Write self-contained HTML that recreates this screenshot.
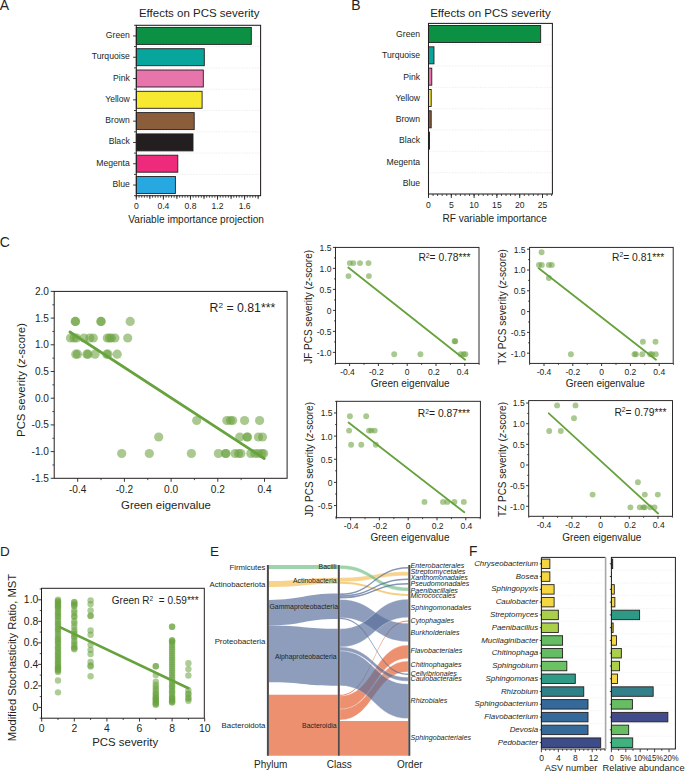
<!DOCTYPE html>
<html><head><meta charset="utf-8"><style>
html,body{margin:0;padding:0;background:#fff;}
svg{display:block;font-family:"Liberation Sans", sans-serif;}
</style></head><body>
<svg width="685" height="773" viewBox="0 0 685 773">
<rect width="685" height="773" fill="#fff"/>
<text x="-0.3" y="9.9" font-size="14" fill="#231f20">A</text>
<text x="351.3" y="9.9" font-size="14" fill="#231f20">B</text>
<text x="-0.3" y="246.6" font-size="14" fill="#231f20">C</text>
<text x="0.1" y="555.5" font-size="13.5" fill="#231f20">D</text>
<text x="210.1" y="555.7" font-size="13.5" fill="#231f20">E</text>
<text x="468.9" y="556.3" font-size="13.8" fill="#231f20">F</text>
<line x1="137.3" y1="46.6" x2="259.6" y2="46.6" stroke="#dedede" stroke-width="0.5" stroke-dasharray="1.6,1.2"/>
<line x1="137.3" y1="67.9" x2="259.6" y2="67.9" stroke="#dedede" stroke-width="0.5" stroke-dasharray="1.6,1.2"/>
<line x1="137.3" y1="89.2" x2="259.6" y2="89.2" stroke="#dedede" stroke-width="0.5" stroke-dasharray="1.6,1.2"/>
<line x1="137.3" y1="110.5" x2="259.6" y2="110.5" stroke="#dedede" stroke-width="0.5" stroke-dasharray="1.6,1.2"/>
<line x1="137.3" y1="131.8" x2="259.6" y2="131.8" stroke="#dedede" stroke-width="0.5" stroke-dasharray="1.6,1.2"/>
<line x1="137.3" y1="153.1" x2="259.6" y2="153.1" stroke="#dedede" stroke-width="0.5" stroke-dasharray="1.6,1.2"/>
<line x1="137.3" y1="174.4" x2="259.6" y2="174.4" stroke="#dedede" stroke-width="0.5" stroke-dasharray="1.6,1.2"/>
<rect x="136.3" y="27.4" width="115" height="17" fill="#0c9144" stroke="#231f20" stroke-width="0.9" />
<rect x="136.3" y="48.7" width="68" height="17" fill="#07a59b" stroke="#231f20" stroke-width="0.9" />
<rect x="136.3" y="70" width="67" height="17" fill="#e774ab" stroke="#231f20" stroke-width="0.9" />
<rect x="136.3" y="91.3" width="65.8" height="17" fill="#f7e92f" stroke="#231f20" stroke-width="0.9" />
<rect x="136.3" y="112.6" width="57.9" height="17" fill="#8b5d3b" stroke="#231f20" stroke-width="0.9" />
<rect x="136.3" y="133.9" width="56.7" height="17" fill="#231f20" stroke="#231f20" stroke-width="0.9" />
<rect x="136.3" y="155.2" width="41.5" height="17" fill="#ed2a7b" stroke="#231f20" stroke-width="0.9" />
<rect x="136.3" y="176.5" width="39.1" height="17" fill="#27a8e0" stroke="#231f20" stroke-width="0.9" />
<rect x="136.3" y="25.3" width="124.3" height="170.4" fill="none" stroke="#231f20" stroke-width="1.05" />
<line x1="133.1" y1="35.95" x2="136.3" y2="35.95" stroke="#231f20" stroke-width="0.9" />
<line x1="134.1" y1="25.3" x2="136.3" y2="25.3" stroke="#231f20" stroke-width="0.9" />
<text x="129.8" y="37.95" font-size="8.65" text-anchor="end" fill="#231f20" >Green</text>
<line x1="133.1" y1="57.25" x2="136.3" y2="57.25" stroke="#231f20" stroke-width="0.9" />
<line x1="134.1" y1="46.6" x2="136.3" y2="46.6" stroke="#231f20" stroke-width="0.9" />
<text x="129.8" y="59.25" font-size="8.65" text-anchor="end" fill="#231f20" >Turquoise</text>
<line x1="133.1" y1="78.55" x2="136.3" y2="78.55" stroke="#231f20" stroke-width="0.9" />
<line x1="134.1" y1="67.9" x2="136.3" y2="67.9" stroke="#231f20" stroke-width="0.9" />
<text x="129.8" y="80.55" font-size="8.65" text-anchor="end" fill="#231f20" >Pink</text>
<line x1="133.1" y1="99.85" x2="136.3" y2="99.85" stroke="#231f20" stroke-width="0.9" />
<line x1="134.1" y1="89.2" x2="136.3" y2="89.2" stroke="#231f20" stroke-width="0.9" />
<text x="129.8" y="101.85" font-size="8.65" text-anchor="end" fill="#231f20" >Yellow</text>
<line x1="133.1" y1="121.15" x2="136.3" y2="121.15" stroke="#231f20" stroke-width="0.9" />
<line x1="134.1" y1="110.5" x2="136.3" y2="110.5" stroke="#231f20" stroke-width="0.9" />
<text x="129.8" y="123.15" font-size="8.65" text-anchor="end" fill="#231f20" >Brown</text>
<line x1="133.1" y1="142.45" x2="136.3" y2="142.45" stroke="#231f20" stroke-width="0.9" />
<line x1="134.1" y1="131.8" x2="136.3" y2="131.8" stroke="#231f20" stroke-width="0.9" />
<text x="129.8" y="144.45" font-size="8.65" text-anchor="end" fill="#231f20" >Black</text>
<line x1="133.1" y1="163.75" x2="136.3" y2="163.75" stroke="#231f20" stroke-width="0.9" />
<line x1="134.1" y1="153.1" x2="136.3" y2="153.1" stroke="#231f20" stroke-width="0.9" />
<text x="129.8" y="165.75" font-size="8.65" text-anchor="end" fill="#231f20" >Megenta</text>
<line x1="133.1" y1="185.05" x2="136.3" y2="185.05" stroke="#231f20" stroke-width="0.9" />
<line x1="134.1" y1="174.4" x2="136.3" y2="174.4" stroke="#231f20" stroke-width="0.9" />
<text x="129.8" y="187.05" font-size="8.65" text-anchor="end" fill="#231f20" >Blue</text>
<line x1="134.1" y1="195.7" x2="136.3" y2="195.7" stroke="#231f20" stroke-width="0.9" />
<line x1="136.3" y1="195.7" x2="136.3" y2="197.7" stroke="#231f20" stroke-width="0.8" />
<line x1="139.01" y1="195.7" x2="139.01" y2="197.7" stroke="#231f20" stroke-width="0.8" />
<line x1="141.72" y1="195.7" x2="141.72" y2="197.7" stroke="#231f20" stroke-width="0.8" />
<line x1="144.42" y1="195.7" x2="144.42" y2="197.7" stroke="#231f20" stroke-width="0.8" />
<line x1="147.13" y1="195.7" x2="147.13" y2="197.7" stroke="#231f20" stroke-width="0.8" />
<line x1="149.84" y1="195.7" x2="149.84" y2="197.7" stroke="#231f20" stroke-width="0.8" />
<line x1="152.55" y1="195.7" x2="152.55" y2="197.7" stroke="#231f20" stroke-width="0.8" />
<line x1="155.26" y1="195.7" x2="155.26" y2="197.7" stroke="#231f20" stroke-width="0.8" />
<line x1="157.96" y1="195.7" x2="157.96" y2="197.7" stroke="#231f20" stroke-width="0.8" />
<line x1="160.67" y1="195.7" x2="160.67" y2="197.7" stroke="#231f20" stroke-width="0.8" />
<line x1="163.38" y1="195.7" x2="163.38" y2="197.7" stroke="#231f20" stroke-width="0.8" />
<line x1="166.09" y1="195.7" x2="166.09" y2="197.7" stroke="#231f20" stroke-width="0.8" />
<line x1="168.8" y1="195.7" x2="168.8" y2="197.7" stroke="#231f20" stroke-width="0.8" />
<line x1="171.5" y1="195.7" x2="171.5" y2="197.7" stroke="#231f20" stroke-width="0.8" />
<line x1="174.21" y1="195.7" x2="174.21" y2="197.7" stroke="#231f20" stroke-width="0.8" />
<line x1="176.92" y1="195.7" x2="176.92" y2="197.7" stroke="#231f20" stroke-width="0.8" />
<line x1="179.63" y1="195.7" x2="179.63" y2="197.7" stroke="#231f20" stroke-width="0.8" />
<line x1="182.34" y1="195.7" x2="182.34" y2="197.7" stroke="#231f20" stroke-width="0.8" />
<line x1="185.04" y1="195.7" x2="185.04" y2="197.7" stroke="#231f20" stroke-width="0.8" />
<line x1="187.75" y1="195.7" x2="187.75" y2="197.7" stroke="#231f20" stroke-width="0.8" />
<line x1="190.46" y1="195.7" x2="190.46" y2="197.7" stroke="#231f20" stroke-width="0.8" />
<line x1="193.17" y1="195.7" x2="193.17" y2="197.7" stroke="#231f20" stroke-width="0.8" />
<line x1="195.88" y1="195.7" x2="195.88" y2="197.7" stroke="#231f20" stroke-width="0.8" />
<line x1="198.58" y1="195.7" x2="198.58" y2="197.7" stroke="#231f20" stroke-width="0.8" />
<line x1="201.29" y1="195.7" x2="201.29" y2="197.7" stroke="#231f20" stroke-width="0.8" />
<line x1="204" y1="195.7" x2="204" y2="197.7" stroke="#231f20" stroke-width="0.8" />
<line x1="206.71" y1="195.7" x2="206.71" y2="197.7" stroke="#231f20" stroke-width="0.8" />
<line x1="209.42" y1="195.7" x2="209.42" y2="197.7" stroke="#231f20" stroke-width="0.8" />
<line x1="212.12" y1="195.7" x2="212.12" y2="197.7" stroke="#231f20" stroke-width="0.8" />
<line x1="214.83" y1="195.7" x2="214.83" y2="197.7" stroke="#231f20" stroke-width="0.8" />
<line x1="217.54" y1="195.7" x2="217.54" y2="197.7" stroke="#231f20" stroke-width="0.8" />
<line x1="220.25" y1="195.7" x2="220.25" y2="197.7" stroke="#231f20" stroke-width="0.8" />
<line x1="222.96" y1="195.7" x2="222.96" y2="197.7" stroke="#231f20" stroke-width="0.8" />
<line x1="225.66" y1="195.7" x2="225.66" y2="197.7" stroke="#231f20" stroke-width="0.8" />
<line x1="228.37" y1="195.7" x2="228.37" y2="197.7" stroke="#231f20" stroke-width="0.8" />
<line x1="231.08" y1="195.7" x2="231.08" y2="197.7" stroke="#231f20" stroke-width="0.8" />
<line x1="233.79" y1="195.7" x2="233.79" y2="197.7" stroke="#231f20" stroke-width="0.8" />
<line x1="236.5" y1="195.7" x2="236.5" y2="197.7" stroke="#231f20" stroke-width="0.8" />
<line x1="239.2" y1="195.7" x2="239.2" y2="197.7" stroke="#231f20" stroke-width="0.8" />
<line x1="241.91" y1="195.7" x2="241.91" y2="197.7" stroke="#231f20" stroke-width="0.8" />
<line x1="244.62" y1="195.7" x2="244.62" y2="197.7" stroke="#231f20" stroke-width="0.8" />
<line x1="247.33" y1="195.7" x2="247.33" y2="197.7" stroke="#231f20" stroke-width="0.8" />
<line x1="250.04" y1="195.7" x2="250.04" y2="197.7" stroke="#231f20" stroke-width="0.8" />
<line x1="252.74" y1="195.7" x2="252.74" y2="197.7" stroke="#231f20" stroke-width="0.8" />
<line x1="255.45" y1="195.7" x2="255.45" y2="197.7" stroke="#231f20" stroke-width="0.8" />
<line x1="258.16" y1="195.7" x2="258.16" y2="197.7" stroke="#231f20" stroke-width="0.8" />
<line x1="149.84" y1="195.7" x2="149.84" y2="199.1" stroke="#231f20" stroke-width="0.8" />
<line x1="176.92" y1="195.7" x2="176.92" y2="199.1" stroke="#231f20" stroke-width="0.8" />
<line x1="204" y1="195.7" x2="204" y2="199.1" stroke="#231f20" stroke-width="0.8" />
<line x1="231.08" y1="195.7" x2="231.08" y2="199.1" stroke="#231f20" stroke-width="0.8" />
<line x1="258.16" y1="195.7" x2="258.16" y2="199.1" stroke="#231f20" stroke-width="0.8" />
<line x1="136.3" y1="195.7" x2="136.3" y2="199.7" stroke="#231f20" stroke-width="0.9" />
<text x="136.3" y="209.3" font-size="8.6" text-anchor="middle" fill="#231f20" >0</text>
<line x1="163.38" y1="195.7" x2="163.38" y2="199.7" stroke="#231f20" stroke-width="0.9" />
<text x="163.38" y="209.3" font-size="8.6" text-anchor="middle" fill="#231f20" >0.4</text>
<line x1="190.46" y1="195.7" x2="190.46" y2="199.7" stroke="#231f20" stroke-width="0.9" />
<text x="190.46" y="209.3" font-size="8.6" text-anchor="middle" fill="#231f20" >0.8</text>
<line x1="217.54" y1="195.7" x2="217.54" y2="199.7" stroke="#231f20" stroke-width="0.9" />
<text x="217.54" y="209.3" font-size="8.6" text-anchor="middle" fill="#231f20" >1.2</text>
<line x1="244.62" y1="195.7" x2="244.62" y2="199.7" stroke="#231f20" stroke-width="0.9" />
<text x="244.62" y="209.3" font-size="8.6" text-anchor="middle" fill="#231f20" >1.6</text>
<text x="199.2" y="16.8" font-size="11.5" text-anchor="middle" fill="#231f20" >Effects on PCS severity</text>
<text x="196.1" y="222.7" font-size="10.1" text-anchor="middle" fill="#231f20" >Variable importance projection</text>
<line x1="429.5" y1="44.72" x2="551.4" y2="44.72" stroke="#dedede" stroke-width="0.5" stroke-dasharray="1.6,1.2"/>
<line x1="429.5" y1="66.05" x2="551.4" y2="66.05" stroke="#dedede" stroke-width="0.5" stroke-dasharray="1.6,1.2"/>
<line x1="429.5" y1="87.38" x2="551.4" y2="87.38" stroke="#dedede" stroke-width="0.5" stroke-dasharray="1.6,1.2"/>
<line x1="429.5" y1="108.7" x2="551.4" y2="108.7" stroke="#dedede" stroke-width="0.5" stroke-dasharray="1.6,1.2"/>
<line x1="429.5" y1="130.03" x2="551.4" y2="130.03" stroke="#dedede" stroke-width="0.5" stroke-dasharray="1.6,1.2"/>
<line x1="429.5" y1="151.35" x2="551.4" y2="151.35" stroke="#dedede" stroke-width="0.5" stroke-dasharray="1.6,1.2"/>
<line x1="429.5" y1="172.68" x2="551.4" y2="172.68" stroke="#dedede" stroke-width="0.5" stroke-dasharray="1.6,1.2"/>
<rect x="428.5" y="25.5" width="112.18" height="17.02" fill="#0c9144" stroke="#231f20" stroke-width="0.9" />
<rect x="428.5" y="46.82" width="5.47" height="17.02" fill="#07a59b" stroke="#231f20" stroke-width="0.9" />
<rect x="428.5" y="68.15" width="3.28" height="17.02" fill="#e774ab" stroke="#231f20" stroke-width="0.9" />
<rect x="428.5" y="89.47" width="2.69" height="17.02" fill="#f7e92f" stroke="#231f20" stroke-width="0.9" />
<rect x="428.5" y="110.8" width="2.69" height="17.02" fill="#8b5d3b" stroke="#231f20" stroke-width="0.9" />
<rect x="428.5" y="132.12" width="1" height="17.02" fill="#231f20" stroke="#231f20" stroke-width="0.9" />
<rect x="428.5" y="153.45" width="0.14" height="17.02" fill="#ed2a7b" stroke="#231f20" stroke-width="0.5" />
<rect x="428.5" y="23.4" width="123.9" height="170.6" fill="none" stroke="#231f20" stroke-width="1.05" />
<text x="420.1" y="36.86" font-size="8.65" text-anchor="end" fill="#231f20" >Green</text>
<text x="420.1" y="58.19" font-size="8.65" text-anchor="end" fill="#231f20" >Turquoise</text>
<text x="420.1" y="79.51" font-size="8.65" text-anchor="end" fill="#231f20" >Pink</text>
<text x="420.1" y="100.84" font-size="8.65" text-anchor="end" fill="#231f20" >Yellow</text>
<text x="420.1" y="122.16" font-size="8.65" text-anchor="end" fill="#231f20" >Brown</text>
<text x="420.1" y="143.49" font-size="8.65" text-anchor="end" fill="#231f20" >Black</text>
<text x="420.1" y="164.81" font-size="8.65" text-anchor="end" fill="#231f20" >Megenta</text>
<text x="420.1" y="186.14" font-size="8.65" text-anchor="end" fill="#231f20" >Blue</text>
<line x1="428.5" y1="194" x2="428.5" y2="196" stroke="#231f20" stroke-width="0.8" />
<line x1="433.06" y1="194" x2="433.06" y2="196" stroke="#231f20" stroke-width="0.8" />
<line x1="437.62" y1="194" x2="437.62" y2="196" stroke="#231f20" stroke-width="0.8" />
<line x1="442.18" y1="194" x2="442.18" y2="196" stroke="#231f20" stroke-width="0.8" />
<line x1="446.74" y1="194" x2="446.74" y2="196" stroke="#231f20" stroke-width="0.8" />
<line x1="451.3" y1="194" x2="451.3" y2="196" stroke="#231f20" stroke-width="0.8" />
<line x1="455.86" y1="194" x2="455.86" y2="196" stroke="#231f20" stroke-width="0.8" />
<line x1="460.42" y1="194" x2="460.42" y2="196" stroke="#231f20" stroke-width="0.8" />
<line x1="464.98" y1="194" x2="464.98" y2="196" stroke="#231f20" stroke-width="0.8" />
<line x1="469.54" y1="194" x2="469.54" y2="196" stroke="#231f20" stroke-width="0.8" />
<line x1="474.1" y1="194" x2="474.1" y2="196" stroke="#231f20" stroke-width="0.8" />
<line x1="478.66" y1="194" x2="478.66" y2="196" stroke="#231f20" stroke-width="0.8" />
<line x1="483.22" y1="194" x2="483.22" y2="196" stroke="#231f20" stroke-width="0.8" />
<line x1="487.78" y1="194" x2="487.78" y2="196" stroke="#231f20" stroke-width="0.8" />
<line x1="492.34" y1="194" x2="492.34" y2="196" stroke="#231f20" stroke-width="0.8" />
<line x1="496.9" y1="194" x2="496.9" y2="196" stroke="#231f20" stroke-width="0.8" />
<line x1="501.46" y1="194" x2="501.46" y2="196" stroke="#231f20" stroke-width="0.8" />
<line x1="506.02" y1="194" x2="506.02" y2="196" stroke="#231f20" stroke-width="0.8" />
<line x1="510.58" y1="194" x2="510.58" y2="196" stroke="#231f20" stroke-width="0.8" />
<line x1="515.14" y1="194" x2="515.14" y2="196" stroke="#231f20" stroke-width="0.8" />
<line x1="519.7" y1="194" x2="519.7" y2="196" stroke="#231f20" stroke-width="0.8" />
<line x1="524.26" y1="194" x2="524.26" y2="196" stroke="#231f20" stroke-width="0.8" />
<line x1="528.82" y1="194" x2="528.82" y2="196" stroke="#231f20" stroke-width="0.8" />
<line x1="533.38" y1="194" x2="533.38" y2="196" stroke="#231f20" stroke-width="0.8" />
<line x1="537.94" y1="194" x2="537.94" y2="196" stroke="#231f20" stroke-width="0.8" />
<line x1="542.5" y1="194" x2="542.5" y2="196" stroke="#231f20" stroke-width="0.8" />
<line x1="547.06" y1="194" x2="547.06" y2="196" stroke="#231f20" stroke-width="0.8" />
<line x1="551.62" y1="194" x2="551.62" y2="196" stroke="#231f20" stroke-width="0.8" />
<line x1="428.5" y1="194" x2="428.5" y2="198" stroke="#231f20" stroke-width="0.9" />
<text x="428.5" y="207.6" font-size="8.6" text-anchor="middle" fill="#231f20" >0</text>
<line x1="451.3" y1="194" x2="451.3" y2="198" stroke="#231f20" stroke-width="0.9" />
<text x="451.3" y="207.6" font-size="8.6" text-anchor="middle" fill="#231f20" >5</text>
<line x1="474.1" y1="194" x2="474.1" y2="198" stroke="#231f20" stroke-width="0.9" />
<text x="474.1" y="207.6" font-size="8.6" text-anchor="middle" fill="#231f20" >10</text>
<line x1="496.9" y1="194" x2="496.9" y2="198" stroke="#231f20" stroke-width="0.9" />
<text x="496.9" y="207.6" font-size="8.6" text-anchor="middle" fill="#231f20" >15</text>
<line x1="519.7" y1="194" x2="519.7" y2="198" stroke="#231f20" stroke-width="0.9" />
<text x="519.7" y="207.6" font-size="8.6" text-anchor="middle" fill="#231f20" >20</text>
<line x1="542.5" y1="194" x2="542.5" y2="198" stroke="#231f20" stroke-width="0.9" />
<text x="542.5" y="207.6" font-size="8.6" text-anchor="middle" fill="#231f20" >25</text>
<text x="490.5" y="16.6" font-size="11.5" text-anchor="middle" fill="#231f20" >Effects on PCS severity</text>
<text x="494.6" y="221.6" font-size="10.1" text-anchor="middle" fill="#231f20" >RF variable importance</text>
<circle cx="75.2" cy="321.4" r="4.6" fill="#6aa240" fill-opacity="0.58"/>
<circle cx="75.6" cy="321.4" r="4.6" fill="#6aa240" fill-opacity="0.58"/>
<circle cx="100.8" cy="321.4" r="4.6" fill="#6aa240" fill-opacity="0.58"/>
<circle cx="101.2" cy="321.4" r="4.6" fill="#6aa240" fill-opacity="0.58"/>
<circle cx="130.2" cy="321.4" r="4.6" fill="#6aa240" fill-opacity="0.58"/>
<circle cx="70.5" cy="338" r="4.6" fill="#6aa240" fill-opacity="0.58"/>
<circle cx="74" cy="338" r="4.6" fill="#6aa240" fill-opacity="0.58"/>
<circle cx="76.5" cy="338" r="4.6" fill="#6aa240" fill-opacity="0.58"/>
<circle cx="84" cy="338" r="4.6" fill="#6aa240" fill-opacity="0.58"/>
<circle cx="89.8" cy="338" r="4.6" fill="#6aa240" fill-opacity="0.58"/>
<circle cx="93.3" cy="338" r="4.6" fill="#6aa240" fill-opacity="0.58"/>
<circle cx="107.3" cy="338" r="4.6" fill="#6aa240" fill-opacity="0.58"/>
<circle cx="109.5" cy="338" r="4.6" fill="#6aa240" fill-opacity="0.58"/>
<circle cx="111.4" cy="338" r="4.6" fill="#6aa240" fill-opacity="0.58"/>
<circle cx="114.9" cy="338" r="4.6" fill="#6aa240" fill-opacity="0.58"/>
<circle cx="127.7" cy="338" r="4.6" fill="#6aa240" fill-opacity="0.58"/>
<circle cx="75.8" cy="354.2" r="4.6" fill="#6aa240" fill-opacity="0.58"/>
<circle cx="77.5" cy="354.2" r="4.6" fill="#6aa240" fill-opacity="0.58"/>
<circle cx="86.9" cy="354.2" r="4.6" fill="#6aa240" fill-opacity="0.58"/>
<circle cx="88" cy="354.2" r="4.6" fill="#6aa240" fill-opacity="0.58"/>
<circle cx="95" cy="354.2" r="4.6" fill="#6aa240" fill-opacity="0.58"/>
<circle cx="106.7" cy="354.2" r="4.6" fill="#6aa240" fill-opacity="0.58"/>
<circle cx="108" cy="354.2" r="4.6" fill="#6aa240" fill-opacity="0.58"/>
<circle cx="117.2" cy="354.2" r="4.6" fill="#6aa240" fill-opacity="0.58"/>
<circle cx="196.7" cy="420.5" r="4.6" fill="#6aa240" fill-opacity="0.58"/>
<circle cx="226.9" cy="420.5" r="4.6" fill="#6aa240" fill-opacity="0.58"/>
<circle cx="230.4" cy="420.5" r="4.6" fill="#6aa240" fill-opacity="0.58"/>
<circle cx="232.7" cy="420.5" r="4.6" fill="#6aa240" fill-opacity="0.58"/>
<circle cx="244.6" cy="420.5" r="4.6" fill="#6aa240" fill-opacity="0.58"/>
<circle cx="259.6" cy="420.5" r="4.6" fill="#6aa240" fill-opacity="0.58"/>
<circle cx="158.7" cy="437" r="4.6" fill="#6aa240" fill-opacity="0.58"/>
<circle cx="239.8" cy="437" r="4.6" fill="#6aa240" fill-opacity="0.58"/>
<circle cx="247" cy="437" r="4.6" fill="#6aa240" fill-opacity="0.58"/>
<circle cx="247.6" cy="437" r="4.6" fill="#6aa240" fill-opacity="0.58"/>
<circle cx="258.4" cy="437" r="4.6" fill="#6aa240" fill-opacity="0.58"/>
<circle cx="262.5" cy="437" r="4.6" fill="#6aa240" fill-opacity="0.58"/>
<circle cx="121.7" cy="453.5" r="4.6" fill="#6aa240" fill-opacity="0.58"/>
<circle cx="149.3" cy="453.5" r="4.6" fill="#6aa240" fill-opacity="0.58"/>
<circle cx="191.4" cy="453.5" r="4.6" fill="#6aa240" fill-opacity="0.58"/>
<circle cx="218.4" cy="453.5" r="4.6" fill="#6aa240" fill-opacity="0.58"/>
<circle cx="225.5" cy="453.5" r="4.6" fill="#6aa240" fill-opacity="0.58"/>
<circle cx="226" cy="453.5" r="4.6" fill="#6aa240" fill-opacity="0.58"/>
<circle cx="235" cy="453.5" r="4.6" fill="#6aa240" fill-opacity="0.58"/>
<circle cx="238.5" cy="453.5" r="4.6" fill="#6aa240" fill-opacity="0.58"/>
<circle cx="240.9" cy="453.5" r="4.6" fill="#6aa240" fill-opacity="0.58"/>
<circle cx="250.8" cy="453.5" r="4.6" fill="#6aa240" fill-opacity="0.58"/>
<circle cx="254.9" cy="453.5" r="4.6" fill="#6aa240" fill-opacity="0.58"/>
<circle cx="258.4" cy="453.5" r="4.6" fill="#6aa240" fill-opacity="0.58"/>
<circle cx="261.9" cy="453.5" r="4.6" fill="#6aa240" fill-opacity="0.58"/>
<circle cx="263.6" cy="453.5" r="4.6" fill="#6aa240" fill-opacity="0.58"/>
<line x1="69.9" y1="332" x2="264.2" y2="458.5" stroke="#66a23d" stroke-width="2.7" stroke-linecap="round"/>
<rect x="54.2" y="291.4" width="232.9" height="186.9" fill="none" stroke="#231f20" stroke-width="1.0" />
<line x1="101.05" y1="478.3" x2="101.05" y2="480.1" stroke="#231f20" stroke-width="0.8" />
<line x1="147.75" y1="478.3" x2="147.75" y2="480.1" stroke="#231f20" stroke-width="0.8" />
<line x1="194.45" y1="478.3" x2="194.45" y2="480.1" stroke="#231f20" stroke-width="0.8" />
<line x1="241.15" y1="478.3" x2="241.15" y2="480.1" stroke="#231f20" stroke-width="0.8" />
<line x1="77.7" y1="478.3" x2="77.7" y2="481.8" stroke="#231f20" stroke-width="0.9" />
<text transform="translate(77.7,492.7) scale(0.92,1)" font-size="11.0" text-anchor="middle" fill="#231f20" >-0.4</text>
<line x1="124.4" y1="478.3" x2="124.4" y2="481.8" stroke="#231f20" stroke-width="0.9" />
<text transform="translate(124.4,492.7) scale(0.92,1)" font-size="11.0" text-anchor="middle" fill="#231f20" >-0.2</text>
<line x1="171.1" y1="478.3" x2="171.1" y2="481.8" stroke="#231f20" stroke-width="0.9" />
<text transform="translate(171.1,492.7) scale(0.92,1)" font-size="11.0" text-anchor="middle" fill="#231f20" >0.0</text>
<line x1="217.8" y1="478.3" x2="217.8" y2="481.8" stroke="#231f20" stroke-width="0.9" />
<text transform="translate(217.8,492.7) scale(0.92,1)" font-size="11.0" text-anchor="middle" fill="#231f20" >0.2</text>
<line x1="264.5" y1="478.3" x2="264.5" y2="481.8" stroke="#231f20" stroke-width="0.9" />
<text transform="translate(264.5,492.7) scale(0.92,1)" font-size="11.0" text-anchor="middle" fill="#231f20" >0.4</text>
<line x1="52.4" y1="304.75" x2="54.2" y2="304.75" stroke="#231f20" stroke-width="0.8" />
<line x1="52.4" y1="331.45" x2="54.2" y2="331.45" stroke="#231f20" stroke-width="0.8" />
<line x1="52.4" y1="358.15" x2="54.2" y2="358.15" stroke="#231f20" stroke-width="0.8" />
<line x1="52.4" y1="384.85" x2="54.2" y2="384.85" stroke="#231f20" stroke-width="0.8" />
<line x1="52.4" y1="411.55" x2="54.2" y2="411.55" stroke="#231f20" stroke-width="0.8" />
<line x1="52.4" y1="438.25" x2="54.2" y2="438.25" stroke="#231f20" stroke-width="0.8" />
<line x1="52.4" y1="464.95" x2="54.2" y2="464.95" stroke="#231f20" stroke-width="0.8" />
<line x1="50.7" y1="291.4" x2="54.2" y2="291.4" stroke="#231f20" stroke-width="0.9" />
<text transform="translate(49,294.9) scale(0.92,1)" font-size="11.0" text-anchor="end" fill="#231f20" >2.0</text>
<line x1="50.7" y1="318.1" x2="54.2" y2="318.1" stroke="#231f20" stroke-width="0.9" />
<text transform="translate(49,321.6) scale(0.92,1)" font-size="11.0" text-anchor="end" fill="#231f20" >1.5</text>
<line x1="50.7" y1="344.8" x2="54.2" y2="344.8" stroke="#231f20" stroke-width="0.9" />
<text transform="translate(49,348.3) scale(0.92,1)" font-size="11.0" text-anchor="end" fill="#231f20" >1.0</text>
<line x1="50.7" y1="371.5" x2="54.2" y2="371.5" stroke="#231f20" stroke-width="0.9" />
<text transform="translate(49,375) scale(0.92,1)" font-size="11.0" text-anchor="end" fill="#231f20" >0.5</text>
<line x1="50.7" y1="398.2" x2="54.2" y2="398.2" stroke="#231f20" stroke-width="0.9" />
<text transform="translate(49,401.7) scale(0.92,1)" font-size="11.0" text-anchor="end" fill="#231f20" >0.0</text>
<line x1="50.7" y1="424.9" x2="54.2" y2="424.9" stroke="#231f20" stroke-width="0.9" />
<text transform="translate(49,428.4) scale(0.92,1)" font-size="11.0" text-anchor="end" fill="#231f20" >-0.5</text>
<line x1="50.7" y1="451.6" x2="54.2" y2="451.6" stroke="#231f20" stroke-width="0.9" />
<text transform="translate(49,455.1) scale(0.92,1)" font-size="11.0" text-anchor="end" fill="#231f20" >-1.0</text>
<line x1="50.7" y1="478.3" x2="54.2" y2="478.3" stroke="#231f20" stroke-width="0.9" />
<text transform="translate(49,481.8) scale(0.92,1)" font-size="11.0" text-anchor="end" fill="#231f20" >-1.5</text>
<text x="209.6" y="311.8" font-size="12.3" text-anchor="start" fill="#231f20" >R<tspan font-size="8.12" dy="-4.18">2</tspan><tspan dy="4.18"> = 0.81***</tspan></text>
<text x="166" y="508.8" font-size="11.4" text-anchor="middle" fill="#231f20" >Green eigenvalue</text>
<text transform="translate(25.3,380) rotate(-90)" font-size="11.4" text-anchor="middle" fill="#231f20" >PCS severity (<tspan font-style="italic">z</tspan>-score)</text>
<circle cx="349.8" cy="263.1" r="2.95" fill="#6aa240" fill-opacity="0.58"/>
<circle cx="353.3" cy="263.1" r="2.95" fill="#6aa240" fill-opacity="0.58"/>
<circle cx="360" cy="263.1" r="2.95" fill="#6aa240" fill-opacity="0.58"/>
<circle cx="368.5" cy="263.1" r="2.95" fill="#6aa240" fill-opacity="0.58"/>
<circle cx="348.5" cy="276.1" r="2.95" fill="#6aa240" fill-opacity="0.58"/>
<circle cx="368.9" cy="276.1" r="2.95" fill="#6aa240" fill-opacity="0.58"/>
<circle cx="454.6" cy="341.2" r="2.95" fill="#6aa240" fill-opacity="0.58"/>
<circle cx="455.3" cy="341.2" r="2.95" fill="#6aa240" fill-opacity="0.58"/>
<circle cx="394.2" cy="354.3" r="2.95" fill="#6aa240" fill-opacity="0.58"/>
<circle cx="420.4" cy="354.3" r="2.95" fill="#6aa240" fill-opacity="0.58"/>
<circle cx="460.7" cy="354.3" r="2.95" fill="#6aa240" fill-opacity="0.58"/>
<circle cx="463.5" cy="354.3" r="2.95" fill="#6aa240" fill-opacity="0.58"/>
<circle cx="465.4" cy="354.3" r="2.95" fill="#6aa240" fill-opacity="0.58"/>
<line x1="348.3" y1="267.5" x2="465.1" y2="359.7" stroke="#66a23d" stroke-width="1.8" stroke-linecap="round"/>
<rect x="335.5" y="247.4" width="143.5" height="116" fill="none" stroke="#231f20" stroke-width="0.95" />
<line x1="335.2" y1="363.4" x2="335.2" y2="364.9" stroke="#231f20" stroke-width="0.8" />
<line x1="364" y1="363.4" x2="364" y2="364.9" stroke="#231f20" stroke-width="0.8" />
<line x1="392.8" y1="363.4" x2="392.8" y2="364.9" stroke="#231f20" stroke-width="0.8" />
<line x1="421.6" y1="363.4" x2="421.6" y2="364.9" stroke="#231f20" stroke-width="0.8" />
<line x1="450.4" y1="363.4" x2="450.4" y2="364.9" stroke="#231f20" stroke-width="0.8" />
<line x1="479.2" y1="363.4" x2="479.2" y2="364.9" stroke="#231f20" stroke-width="0.8" />
<line x1="349.6" y1="363.4" x2="349.6" y2="366" stroke="#231f20" stroke-width="0.9" />
<text transform="translate(347.5,374.7) scale(0.93,1)" font-size="9.2" text-anchor="middle" fill="#231f20" >-0.4</text>
<line x1="378.4" y1="363.4" x2="378.4" y2="366" stroke="#231f20" stroke-width="0.9" />
<text transform="translate(376.3,374.7) scale(0.93,1)" font-size="9.2" text-anchor="middle" fill="#231f20" >-0.2</text>
<line x1="407.2" y1="363.4" x2="407.2" y2="366" stroke="#231f20" stroke-width="0.9" />
<text transform="translate(407.2,374.7) scale(0.93,1)" font-size="9.2" text-anchor="middle" fill="#231f20" >0</text>
<line x1="436" y1="363.4" x2="436" y2="366" stroke="#231f20" stroke-width="0.9" />
<text transform="translate(433.9,374.7) scale(0.93,1)" font-size="9.2" text-anchor="middle" fill="#231f20" >0.2</text>
<line x1="464.8" y1="363.4" x2="464.8" y2="366" stroke="#231f20" stroke-width="0.9" />
<text transform="translate(462.7,374.7) scale(0.93,1)" font-size="9.2" text-anchor="middle" fill="#231f20" >0.4</text>
<line x1="334" y1="257.9" x2="335.5" y2="257.9" stroke="#231f20" stroke-width="0.8" />
<line x1="334" y1="278.9" x2="335.5" y2="278.9" stroke="#231f20" stroke-width="0.8" />
<line x1="334" y1="299.9" x2="335.5" y2="299.9" stroke="#231f20" stroke-width="0.8" />
<line x1="334" y1="320.9" x2="335.5" y2="320.9" stroke="#231f20" stroke-width="0.8" />
<line x1="334" y1="341.9" x2="335.5" y2="341.9" stroke="#231f20" stroke-width="0.8" />
<line x1="332.9" y1="247.4" x2="335.5" y2="247.4" stroke="#231f20" stroke-width="0.9" />
<text transform="translate(331.5,250.8) scale(0.93,1)" font-size="9.2" text-anchor="end" fill="#231f20" >1.5</text>
<line x1="332.9" y1="268.4" x2="335.5" y2="268.4" stroke="#231f20" stroke-width="0.9" />
<text transform="translate(331.5,271.8) scale(0.93,1)" font-size="9.2" text-anchor="end" fill="#231f20" >1.0</text>
<line x1="332.9" y1="289.4" x2="335.5" y2="289.4" stroke="#231f20" stroke-width="0.9" />
<text transform="translate(331.5,292.8) scale(0.93,1)" font-size="9.2" text-anchor="end" fill="#231f20" >0.5</text>
<line x1="332.9" y1="310.4" x2="335.5" y2="310.4" stroke="#231f20" stroke-width="0.9" />
<text transform="translate(331.5,313.8) scale(0.93,1)" font-size="9.2" text-anchor="end" fill="#231f20" >0</text>
<line x1="332.9" y1="331.4" x2="335.5" y2="331.4" stroke="#231f20" stroke-width="0.9" />
<text transform="translate(331.5,334.8) scale(0.93,1)" font-size="9.2" text-anchor="end" fill="#231f20" >-0.5</text>
<line x1="332.9" y1="352.4" x2="335.5" y2="352.4" stroke="#231f20" stroke-width="0.9" />
<text transform="translate(331.5,355.8) scale(0.93,1)" font-size="9.2" text-anchor="end" fill="#231f20" >-1.0</text>
<text x="418.4" y="261.2" font-size="10.3" text-anchor="start" fill="#231f20" >R<tspan font-size="6.8" dy="-3.5">2</tspan><tspan dy="3.5">= 0.78***</tspan></text>
<text x="410.2" y="386.5" font-size="10" text-anchor="middle" fill="#231f20" >Green eigenvalue</text>
<text transform="translate(312.2,306.9) rotate(-90)" font-size="10.0" text-anchor="middle" fill="#231f20" >JF PCS severity (<tspan font-style="italic">z</tspan>-score)</text>
<circle cx="541.6" cy="252.3" r="2.95" fill="#6aa240" fill-opacity="0.58"/>
<circle cx="539" cy="264.9" r="2.95" fill="#6aa240" fill-opacity="0.58"/>
<circle cx="541.8" cy="264.9" r="2.95" fill="#6aa240" fill-opacity="0.58"/>
<circle cx="548.9" cy="264.9" r="2.95" fill="#6aa240" fill-opacity="0.58"/>
<circle cx="551.8" cy="264.9" r="2.95" fill="#6aa240" fill-opacity="0.58"/>
<circle cx="548.9" cy="278" r="2.95" fill="#6aa240" fill-opacity="0.58"/>
<circle cx="642.9" cy="341.7" r="2.95" fill="#6aa240" fill-opacity="0.58"/>
<circle cx="655.5" cy="341.7" r="2.95" fill="#6aa240" fill-opacity="0.58"/>
<circle cx="570.9" cy="354.2" r="2.95" fill="#6aa240" fill-opacity="0.58"/>
<circle cx="634.5" cy="354.2" r="2.95" fill="#6aa240" fill-opacity="0.58"/>
<circle cx="635.9" cy="354.2" r="2.95" fill="#6aa240" fill-opacity="0.58"/>
<circle cx="642.3" cy="354.2" r="2.95" fill="#6aa240" fill-opacity="0.58"/>
<circle cx="650.2" cy="354.2" r="2.95" fill="#6aa240" fill-opacity="0.58"/>
<circle cx="652" cy="354.2" r="2.95" fill="#6aa240" fill-opacity="0.58"/>
<circle cx="655.8" cy="354.2" r="2.95" fill="#6aa240" fill-opacity="0.58"/>
<line x1="538.7" y1="268.2" x2="656" y2="359.8" stroke="#66a23d" stroke-width="1.8" stroke-linecap="round"/>
<rect x="529.6" y="247.4" width="143.6" height="116" fill="none" stroke="#231f20" stroke-width="0.95" />
<line x1="529.6" y1="363.4" x2="529.6" y2="364.9" stroke="#231f20" stroke-width="0.8" />
<line x1="558.4" y1="363.4" x2="558.4" y2="364.9" stroke="#231f20" stroke-width="0.8" />
<line x1="587.2" y1="363.4" x2="587.2" y2="364.9" stroke="#231f20" stroke-width="0.8" />
<line x1="616" y1="363.4" x2="616" y2="364.9" stroke="#231f20" stroke-width="0.8" />
<line x1="644.8" y1="363.4" x2="644.8" y2="364.9" stroke="#231f20" stroke-width="0.8" />
<line x1="673.6" y1="363.4" x2="673.6" y2="364.9" stroke="#231f20" stroke-width="0.8" />
<line x1="544" y1="363.4" x2="544" y2="366" stroke="#231f20" stroke-width="0.9" />
<text transform="translate(544,374.9) scale(0.93,1)" font-size="9.2" text-anchor="middle" fill="#231f20" >-0.4</text>
<line x1="572.8" y1="363.4" x2="572.8" y2="366" stroke="#231f20" stroke-width="0.9" />
<text transform="translate(572.8,374.9) scale(0.93,1)" font-size="9.2" text-anchor="middle" fill="#231f20" >-0.2</text>
<line x1="601.6" y1="363.4" x2="601.6" y2="366" stroke="#231f20" stroke-width="0.9" />
<text transform="translate(601.6,374.9) scale(0.93,1)" font-size="9.2" text-anchor="middle" fill="#231f20" >0</text>
<line x1="630.4" y1="363.4" x2="630.4" y2="366" stroke="#231f20" stroke-width="0.9" />
<text transform="translate(630.4,374.9) scale(0.93,1)" font-size="9.2" text-anchor="middle" fill="#231f20" >0.2</text>
<line x1="659.2" y1="363.4" x2="659.2" y2="366" stroke="#231f20" stroke-width="0.9" />
<text transform="translate(659.2,374.9) scale(0.93,1)" font-size="9.2" text-anchor="middle" fill="#231f20" >0.4</text>
<line x1="528.1" y1="259.6" x2="529.6" y2="259.6" stroke="#231f20" stroke-width="0.8" />
<line x1="528.1" y1="280.4" x2="529.6" y2="280.4" stroke="#231f20" stroke-width="0.8" />
<line x1="528.1" y1="301.2" x2="529.6" y2="301.2" stroke="#231f20" stroke-width="0.8" />
<line x1="528.1" y1="322" x2="529.6" y2="322" stroke="#231f20" stroke-width="0.8" />
<line x1="528.1" y1="342.8" x2="529.6" y2="342.8" stroke="#231f20" stroke-width="0.8" />
<line x1="527" y1="249.2" x2="529.6" y2="249.2" stroke="#231f20" stroke-width="0.9" />
<text transform="translate(525.6,252.6) scale(0.93,1)" font-size="9.2" text-anchor="end" fill="#231f20" >1.5</text>
<line x1="527" y1="270" x2="529.6" y2="270" stroke="#231f20" stroke-width="0.9" />
<text transform="translate(525.6,273.4) scale(0.93,1)" font-size="9.2" text-anchor="end" fill="#231f20" >1.0</text>
<line x1="527" y1="290.8" x2="529.6" y2="290.8" stroke="#231f20" stroke-width="0.9" />
<text transform="translate(525.6,294.2) scale(0.93,1)" font-size="9.2" text-anchor="end" fill="#231f20" >0.5</text>
<line x1="527" y1="311.6" x2="529.6" y2="311.6" stroke="#231f20" stroke-width="0.9" />
<text transform="translate(525.6,315) scale(0.93,1)" font-size="9.2" text-anchor="end" fill="#231f20" >0</text>
<line x1="527" y1="332.4" x2="529.6" y2="332.4" stroke="#231f20" stroke-width="0.9" />
<text transform="translate(525.6,335.8) scale(0.93,1)" font-size="9.2" text-anchor="end" fill="#231f20" >-0.5</text>
<line x1="527" y1="353.2" x2="529.6" y2="353.2" stroke="#231f20" stroke-width="0.9" />
<text transform="translate(525.6,356.6) scale(0.93,1)" font-size="9.2" text-anchor="end" fill="#231f20" >-1.0</text>
<text x="612" y="260.8" font-size="10.3" text-anchor="start" fill="#231f20" >R<tspan font-size="6.8" dy="-3.5">2</tspan><tspan dy="3.5">= 0.81***</tspan></text>
<text x="605.3" y="387" font-size="10" text-anchor="middle" fill="#231f20" >Green eigenvalue</text>
<text transform="translate(506.4,306.9) rotate(-90)" font-size="10.0" text-anchor="middle" fill="#231f20" >TX PCS severity (<tspan font-style="italic">z</tspan>-score)</text>
<circle cx="349.9" cy="416.2" r="2.95" fill="#6aa240" fill-opacity="0.58"/>
<circle cx="366.2" cy="416.2" r="2.95" fill="#6aa240" fill-opacity="0.58"/>
<circle cx="349.1" cy="430.6" r="2.95" fill="#6aa240" fill-opacity="0.58"/>
<circle cx="369" cy="430.6" r="2.95" fill="#6aa240" fill-opacity="0.58"/>
<circle cx="371.3" cy="430.6" r="2.95" fill="#6aa240" fill-opacity="0.58"/>
<circle cx="374.7" cy="430.6" r="2.95" fill="#6aa240" fill-opacity="0.58"/>
<circle cx="351.1" cy="444.8" r="2.95" fill="#6aa240" fill-opacity="0.58"/>
<circle cx="361.3" cy="444.8" r="2.95" fill="#6aa240" fill-opacity="0.58"/>
<circle cx="375.8" cy="444.8" r="2.95" fill="#6aa240" fill-opacity="0.58"/>
<circle cx="424.5" cy="501.9" r="2.95" fill="#6aa240" fill-opacity="0.58"/>
<circle cx="443" cy="501.9" r="2.95" fill="#6aa240" fill-opacity="0.58"/>
<circle cx="447.3" cy="501.9" r="2.95" fill="#6aa240" fill-opacity="0.58"/>
<circle cx="454.4" cy="501.9" r="2.95" fill="#6aa240" fill-opacity="0.58"/>
<circle cx="463.8" cy="501.9" r="2.95" fill="#6aa240" fill-opacity="0.58"/>
<line x1="348.5" y1="422.5" x2="464.3" y2="512.3" stroke="#66a23d" stroke-width="1.8" stroke-linecap="round"/>
<rect x="336.6" y="401.3" width="143.8" height="116.4" fill="none" stroke="#231f20" stroke-width="0.95" />
<line x1="336.2" y1="517.7" x2="336.2" y2="519.2" stroke="#231f20" stroke-width="0.8" />
<line x1="365" y1="517.7" x2="365" y2="519.2" stroke="#231f20" stroke-width="0.8" />
<line x1="393.8" y1="517.7" x2="393.8" y2="519.2" stroke="#231f20" stroke-width="0.8" />
<line x1="422.6" y1="517.7" x2="422.6" y2="519.2" stroke="#231f20" stroke-width="0.8" />
<line x1="451.4" y1="517.7" x2="451.4" y2="519.2" stroke="#231f20" stroke-width="0.8" />
<line x1="480.2" y1="517.7" x2="480.2" y2="519.2" stroke="#231f20" stroke-width="0.8" />
<line x1="350.6" y1="517.7" x2="350.6" y2="520.3" stroke="#231f20" stroke-width="0.9" />
<text transform="translate(351.2,528.8) scale(0.93,1)" font-size="9.2" text-anchor="middle" fill="#231f20" >-0.4</text>
<line x1="379.4" y1="517.7" x2="379.4" y2="520.3" stroke="#231f20" stroke-width="0.9" />
<text transform="translate(380,528.8) scale(0.93,1)" font-size="9.2" text-anchor="middle" fill="#231f20" >-0.2</text>
<line x1="408.2" y1="517.7" x2="408.2" y2="520.3" stroke="#231f20" stroke-width="0.9" />
<text transform="translate(408.2,528.8) scale(0.93,1)" font-size="9.2" text-anchor="middle" fill="#231f20" >0</text>
<line x1="437" y1="517.7" x2="437" y2="520.3" stroke="#231f20" stroke-width="0.9" />
<text transform="translate(437.6,528.8) scale(0.93,1)" font-size="9.2" text-anchor="middle" fill="#231f20" >0.2</text>
<line x1="465.8" y1="517.7" x2="465.8" y2="520.3" stroke="#231f20" stroke-width="0.9" />
<text transform="translate(466.4,528.8) scale(0.93,1)" font-size="9.2" text-anchor="middle" fill="#231f20" >0.4</text>
<line x1="335.1" y1="401.38" x2="336.6" y2="401.38" stroke="#231f20" stroke-width="0.8" />
<line x1="335.1" y1="424.52" x2="336.6" y2="424.52" stroke="#231f20" stroke-width="0.8" />
<line x1="335.1" y1="447.67" x2="336.6" y2="447.67" stroke="#231f20" stroke-width="0.8" />
<line x1="335.1" y1="470.82" x2="336.6" y2="470.82" stroke="#231f20" stroke-width="0.8" />
<line x1="335.1" y1="493.97" x2="336.6" y2="493.97" stroke="#231f20" stroke-width="0.8" />
<line x1="335.1" y1="517.12" x2="336.6" y2="517.12" stroke="#231f20" stroke-width="0.8" />
<line x1="334" y1="412.95" x2="336.6" y2="412.95" stroke="#231f20" stroke-width="0.9" />
<text transform="translate(332.6,416.35) scale(0.93,1)" font-size="9.2" text-anchor="end" fill="#231f20" >1.5</text>
<line x1="334" y1="436.1" x2="336.6" y2="436.1" stroke="#231f20" stroke-width="0.9" />
<text transform="translate(332.6,439.5) scale(0.93,1)" font-size="9.2" text-anchor="end" fill="#231f20" >1.0</text>
<line x1="334" y1="459.25" x2="336.6" y2="459.25" stroke="#231f20" stroke-width="0.9" />
<text transform="translate(332.6,462.65) scale(0.93,1)" font-size="9.2" text-anchor="end" fill="#231f20" >0.5</text>
<line x1="334" y1="482.4" x2="336.6" y2="482.4" stroke="#231f20" stroke-width="0.9" />
<text transform="translate(332.6,485.8) scale(0.93,1)" font-size="9.2" text-anchor="end" fill="#231f20" >0</text>
<line x1="334" y1="505.55" x2="336.6" y2="505.55" stroke="#231f20" stroke-width="0.9" />
<text transform="translate(332.6,508.95) scale(0.93,1)" font-size="9.2" text-anchor="end" fill="#231f20" >-0.5</text>
<text x="417.8" y="417" font-size="10.3" text-anchor="start" fill="#231f20" >R<tspan font-size="6.8" dy="-3.5">2</tspan><tspan dy="3.5">= 0.87***</tspan></text>
<text x="410" y="541.2" font-size="10" text-anchor="middle" fill="#231f20" >Green eigenvalue</text>
<text transform="translate(312.8,459.5) rotate(-90)" font-size="10.0" text-anchor="middle" fill="#231f20" >JD PCS severity (<tspan font-style="italic">z</tspan>-score)</text>
<circle cx="557.1" cy="405.4" r="2.95" fill="#6aa240" fill-opacity="0.58"/>
<circle cx="575.5" cy="405.4" r="2.95" fill="#6aa240" fill-opacity="0.58"/>
<circle cx="574" cy="418.3" r="2.95" fill="#6aa240" fill-opacity="0.58"/>
<circle cx="549.2" cy="431" r="2.95" fill="#6aa240" fill-opacity="0.58"/>
<circle cx="560.8" cy="431" r="2.95" fill="#6aa240" fill-opacity="0.58"/>
<circle cx="637.9" cy="482.2" r="2.95" fill="#6aa240" fill-opacity="0.58"/>
<circle cx="592.6" cy="494.6" r="2.95" fill="#6aa240" fill-opacity="0.58"/>
<circle cx="644.8" cy="494.6" r="2.95" fill="#6aa240" fill-opacity="0.58"/>
<circle cx="657.8" cy="494.6" r="2.95" fill="#6aa240" fill-opacity="0.58"/>
<circle cx="630.4" cy="507.4" r="2.95" fill="#6aa240" fill-opacity="0.58"/>
<circle cx="639.8" cy="507.4" r="2.95" fill="#6aa240" fill-opacity="0.58"/>
<circle cx="643.4" cy="507.4" r="2.95" fill="#6aa240" fill-opacity="0.58"/>
<circle cx="644.8" cy="507.4" r="2.95" fill="#6aa240" fill-opacity="0.58"/>
<circle cx="650.3" cy="507.4" r="2.95" fill="#6aa240" fill-opacity="0.58"/>
<circle cx="654.5" cy="507.4" r="2.95" fill="#6aa240" fill-opacity="0.58"/>
<line x1="548.8" y1="413.3" x2="658.1" y2="513.5" stroke="#66a23d" stroke-width="1.8" stroke-linecap="round"/>
<rect x="528.7" y="400.6" width="143.8" height="115.7" fill="none" stroke="#231f20" stroke-width="0.95" />
<line x1="528.85" y1="516.3" x2="528.85" y2="517.8" stroke="#231f20" stroke-width="0.8" />
<line x1="557.55" y1="516.3" x2="557.55" y2="517.8" stroke="#231f20" stroke-width="0.8" />
<line x1="586.25" y1="516.3" x2="586.25" y2="517.8" stroke="#231f20" stroke-width="0.8" />
<line x1="614.95" y1="516.3" x2="614.95" y2="517.8" stroke="#231f20" stroke-width="0.8" />
<line x1="643.65" y1="516.3" x2="643.65" y2="517.8" stroke="#231f20" stroke-width="0.8" />
<line x1="672.35" y1="516.3" x2="672.35" y2="517.8" stroke="#231f20" stroke-width="0.8" />
<line x1="543.2" y1="516.3" x2="543.2" y2="518.9" stroke="#231f20" stroke-width="0.9" />
<text transform="translate(544,527.8) scale(0.93,1)" font-size="9.2" text-anchor="middle" fill="#231f20" >-0.4</text>
<line x1="571.9" y1="516.3" x2="571.9" y2="518.9" stroke="#231f20" stroke-width="0.9" />
<text transform="translate(572.7,527.8) scale(0.93,1)" font-size="9.2" text-anchor="middle" fill="#231f20" >-0.2</text>
<line x1="600.6" y1="516.3" x2="600.6" y2="518.9" stroke="#231f20" stroke-width="0.9" />
<text transform="translate(600.6,527.8) scale(0.93,1)" font-size="9.2" text-anchor="middle" fill="#231f20" >0</text>
<line x1="629.3" y1="516.3" x2="629.3" y2="518.9" stroke="#231f20" stroke-width="0.9" />
<text transform="translate(630.1,527.8) scale(0.93,1)" font-size="9.2" text-anchor="middle" fill="#231f20" >0.2</text>
<line x1="658" y1="516.3" x2="658" y2="518.9" stroke="#231f20" stroke-width="0.9" />
<text transform="translate(658.8,527.8) scale(0.93,1)" font-size="9.2" text-anchor="middle" fill="#231f20" >0.4</text>
<line x1="527.2" y1="413.38" x2="528.7" y2="413.38" stroke="#231f20" stroke-width="0.8" />
<line x1="527.2" y1="434.02" x2="528.7" y2="434.02" stroke="#231f20" stroke-width="0.8" />
<line x1="527.2" y1="454.68" x2="528.7" y2="454.68" stroke="#231f20" stroke-width="0.8" />
<line x1="527.2" y1="475.32" x2="528.7" y2="475.32" stroke="#231f20" stroke-width="0.8" />
<line x1="527.2" y1="495.98" x2="528.7" y2="495.98" stroke="#231f20" stroke-width="0.8" />
<line x1="526.1" y1="403.05" x2="528.7" y2="403.05" stroke="#231f20" stroke-width="0.9" />
<text transform="translate(524.7,406.45) scale(0.93,1)" font-size="9.2" text-anchor="end" fill="#231f20" >1.5</text>
<line x1="526.1" y1="423.7" x2="528.7" y2="423.7" stroke="#231f20" stroke-width="0.9" />
<text transform="translate(524.7,427.1) scale(0.93,1)" font-size="9.2" text-anchor="end" fill="#231f20" >1.0</text>
<line x1="526.1" y1="444.35" x2="528.7" y2="444.35" stroke="#231f20" stroke-width="0.9" />
<text transform="translate(524.7,447.75) scale(0.93,1)" font-size="9.2" text-anchor="end" fill="#231f20" >0.5</text>
<line x1="526.1" y1="465" x2="528.7" y2="465" stroke="#231f20" stroke-width="0.9" />
<text transform="translate(524.7,468.4) scale(0.93,1)" font-size="9.2" text-anchor="end" fill="#231f20" >0</text>
<line x1="526.1" y1="485.65" x2="528.7" y2="485.65" stroke="#231f20" stroke-width="0.9" />
<text transform="translate(524.7,489.05) scale(0.93,1)" font-size="9.2" text-anchor="end" fill="#231f20" >-0.5</text>
<line x1="526.1" y1="506.3" x2="528.7" y2="506.3" stroke="#231f20" stroke-width="0.9" />
<text transform="translate(524.7,509.7) scale(0.93,1)" font-size="9.2" text-anchor="end" fill="#231f20" >-1.0</text>
<text x="614.4" y="415.6" font-size="10.3" text-anchor="start" fill="#231f20" >R<tspan font-size="6.8" dy="-3.5">2</tspan><tspan dy="3.5">= 0.79***</tspan></text>
<text x="601.8" y="541.2" font-size="10" text-anchor="middle" fill="#231f20" >Green eigenvalue</text>
<text transform="translate(505.6,459.5) rotate(-90)" font-size="10.0" text-anchor="middle" fill="#231f20" >TZ PCS severity (<tspan font-style="italic">z</tspan>-score)</text>
<circle cx="58" cy="599.8" r="3.2" fill="#6aa240" fill-opacity="0.55"/>
<circle cx="58" cy="600.88" r="3.2" fill="#6aa240" fill-opacity="0.55"/>
<circle cx="58" cy="601.95" r="3.2" fill="#6aa240" fill-opacity="0.55"/>
<circle cx="58" cy="603.03" r="3.2" fill="#6aa240" fill-opacity="0.55"/>
<circle cx="58" cy="604.1" r="3.2" fill="#6aa240" fill-opacity="0.55"/>
<circle cx="58" cy="605.18" r="3.2" fill="#6aa240" fill-opacity="0.55"/>
<circle cx="58" cy="606.26" r="3.2" fill="#6aa240" fill-opacity="0.55"/>
<circle cx="58" cy="607.33" r="3.2" fill="#6aa240" fill-opacity="0.55"/>
<circle cx="58" cy="608.41" r="3.2" fill="#6aa240" fill-opacity="0.55"/>
<circle cx="58" cy="610.56" r="3.2" fill="#6aa240" fill-opacity="0.55"/>
<circle cx="58" cy="612.71" r="3.2" fill="#6aa240" fill-opacity="0.55"/>
<circle cx="58" cy="613.79" r="3.2" fill="#6aa240" fill-opacity="0.55"/>
<circle cx="58" cy="615.94" r="3.2" fill="#6aa240" fill-opacity="0.55"/>
<circle cx="58" cy="617.02" r="3.2" fill="#6aa240" fill-opacity="0.55"/>
<circle cx="58" cy="619.17" r="3.2" fill="#6aa240" fill-opacity="0.55"/>
<circle cx="58" cy="621.32" r="3.2" fill="#6aa240" fill-opacity="0.55"/>
<circle cx="58" cy="623.47" r="3.2" fill="#6aa240" fill-opacity="0.55"/>
<circle cx="58" cy="624.55" r="3.2" fill="#6aa240" fill-opacity="0.55"/>
<circle cx="58" cy="626.7" r="3.2" fill="#6aa240" fill-opacity="0.55"/>
<circle cx="58" cy="628.85" r="3.2" fill="#6aa240" fill-opacity="0.55"/>
<circle cx="58" cy="629.93" r="3.2" fill="#6aa240" fill-opacity="0.55"/>
<circle cx="58" cy="632.08" r="3.2" fill="#6aa240" fill-opacity="0.55"/>
<circle cx="58" cy="634.23" r="3.2" fill="#6aa240" fill-opacity="0.55"/>
<circle cx="58" cy="636.38" r="3.2" fill="#6aa240" fill-opacity="0.55"/>
<circle cx="58" cy="638.54" r="3.2" fill="#6aa240" fill-opacity="0.55"/>
<circle cx="58" cy="639.61" r="3.2" fill="#6aa240" fill-opacity="0.55"/>
<circle cx="58" cy="641.76" r="3.2" fill="#6aa240" fill-opacity="0.55"/>
<circle cx="58" cy="642.84" r="3.2" fill="#6aa240" fill-opacity="0.55"/>
<circle cx="58" cy="644.99" r="3.2" fill="#6aa240" fill-opacity="0.55"/>
<circle cx="58" cy="647.14" r="3.2" fill="#6aa240" fill-opacity="0.55"/>
<circle cx="58" cy="648.22" r="3.2" fill="#6aa240" fill-opacity="0.55"/>
<circle cx="58" cy="650.37" r="3.2" fill="#6aa240" fill-opacity="0.55"/>
<circle cx="58" cy="652.52" r="3.2" fill="#6aa240" fill-opacity="0.55"/>
<circle cx="58" cy="653.6" r="3.2" fill="#6aa240" fill-opacity="0.55"/>
<circle cx="58" cy="655.75" r="3.2" fill="#6aa240" fill-opacity="0.55"/>
<circle cx="58" cy="656.83" r="3.2" fill="#6aa240" fill-opacity="0.55"/>
<circle cx="58" cy="658.98" r="3.2" fill="#6aa240" fill-opacity="0.55"/>
<circle cx="58" cy="660.06" r="3.2" fill="#6aa240" fill-opacity="0.55"/>
<circle cx="58" cy="662.21" r="3.2" fill="#6aa240" fill-opacity="0.55"/>
<circle cx="58" cy="663.28" r="3.2" fill="#6aa240" fill-opacity="0.55"/>
<circle cx="58" cy="665.44" r="3.2" fill="#6aa240" fill-opacity="0.55"/>
<circle cx="58" cy="666.51" r="3.2" fill="#6aa240" fill-opacity="0.55"/>
<circle cx="58" cy="667.59" r="3.2" fill="#6aa240" fill-opacity="0.55"/>
<circle cx="58" cy="668.66" r="3.2" fill="#6aa240" fill-opacity="0.55"/>
<circle cx="58" cy="669.74" r="3.2" fill="#6aa240" fill-opacity="0.55"/>
<circle cx="58" cy="670.82" r="3.2" fill="#6aa240" fill-opacity="0.55"/>
<circle cx="58" cy="671.89" r="3.2" fill="#6aa240" fill-opacity="0.55"/>
<circle cx="58" cy="680.5" r="3.2" fill="#6aa240" fill-opacity="0.55"/>
<circle cx="58" cy="692.34" r="3.2" fill="#6aa240" fill-opacity="0.55"/>
<circle cx="74.3" cy="601.95" r="3.2" fill="#6aa240" fill-opacity="0.55"/>
<circle cx="74.3" cy="602.49" r="3.2" fill="#6aa240" fill-opacity="0.55"/>
<circle cx="74.3" cy="604.1" r="3.2" fill="#6aa240" fill-opacity="0.55"/>
<circle cx="74.3" cy="605.18" r="3.2" fill="#6aa240" fill-opacity="0.55"/>
<circle cx="74.3" cy="606.26" r="3.2" fill="#6aa240" fill-opacity="0.55"/>
<circle cx="74.3" cy="610.56" r="3.2" fill="#6aa240" fill-opacity="0.55"/>
<circle cx="74.3" cy="612.71" r="3.2" fill="#6aa240" fill-opacity="0.55"/>
<circle cx="74.3" cy="615.94" r="3.2" fill="#6aa240" fill-opacity="0.55"/>
<circle cx="74.3" cy="617.02" r="3.2" fill="#6aa240" fill-opacity="0.55"/>
<circle cx="74.3" cy="621.32" r="3.2" fill="#6aa240" fill-opacity="0.55"/>
<circle cx="74.3" cy="623.47" r="3.2" fill="#6aa240" fill-opacity="0.55"/>
<circle cx="74.3" cy="626.7" r="3.2" fill="#6aa240" fill-opacity="0.55"/>
<circle cx="74.3" cy="629.93" r="3.2" fill="#6aa240" fill-opacity="0.55"/>
<circle cx="74.3" cy="632.08" r="3.2" fill="#6aa240" fill-opacity="0.55"/>
<circle cx="74.3" cy="634.23" r="3.2" fill="#6aa240" fill-opacity="0.55"/>
<circle cx="74.3" cy="636.38" r="3.2" fill="#6aa240" fill-opacity="0.55"/>
<circle cx="74.3" cy="637.46" r="3.2" fill="#6aa240" fill-opacity="0.55"/>
<circle cx="74.3" cy="640.69" r="3.2" fill="#6aa240" fill-opacity="0.55"/>
<circle cx="74.3" cy="642.84" r="3.2" fill="#6aa240" fill-opacity="0.55"/>
<circle cx="74.3" cy="644.99" r="3.2" fill="#6aa240" fill-opacity="0.55"/>
<circle cx="74.3" cy="647.14" r="3.2" fill="#6aa240" fill-opacity="0.55"/>
<circle cx="74.3" cy="648.22" r="3.2" fill="#6aa240" fill-opacity="0.55"/>
<circle cx="74.3" cy="649.3" r="3.2" fill="#6aa240" fill-opacity="0.55"/>
<circle cx="90.6" cy="600.34" r="3.2" fill="#6aa240" fill-opacity="0.55"/>
<circle cx="90.6" cy="604.1" r="3.2" fill="#6aa240" fill-opacity="0.55"/>
<circle cx="90.6" cy="610.56" r="3.2" fill="#6aa240" fill-opacity="0.55"/>
<circle cx="90.6" cy="615.62" r="3.2" fill="#6aa240" fill-opacity="0.55"/>
<circle cx="90.6" cy="615.94" r="3.2" fill="#6aa240" fill-opacity="0.55"/>
<circle cx="90.6" cy="630.57" r="3.2" fill="#6aa240" fill-opacity="0.55"/>
<circle cx="90.6" cy="634.77" r="3.2" fill="#6aa240" fill-opacity="0.55"/>
<circle cx="90.6" cy="644.78" r="3.2" fill="#6aa240" fill-opacity="0.55"/>
<circle cx="90.6" cy="649.83" r="3.2" fill="#6aa240" fill-opacity="0.55"/>
<circle cx="90.6" cy="654.03" r="3.2" fill="#6aa240" fill-opacity="0.55"/>
<circle cx="90.6" cy="661.89" r="3.2" fill="#6aa240" fill-opacity="0.55"/>
<circle cx="90.6" cy="665.44" r="3.2" fill="#6aa240" fill-opacity="0.55"/>
<circle cx="90.6" cy="666.51" r="3.2" fill="#6aa240" fill-opacity="0.55"/>
<circle cx="90.6" cy="676.2" r="3.2" fill="#6aa240" fill-opacity="0.55"/>
<circle cx="155.8" cy="666.19" r="3.2" fill="#6aa240" fill-opacity="0.55"/>
<circle cx="155.8" cy="666.19" r="3.2" fill="#6aa240" fill-opacity="0.55"/>
<circle cx="155.8" cy="675.12" r="3.2" fill="#6aa240" fill-opacity="0.55"/>
<circle cx="155.8" cy="681.58" r="3.2" fill="#6aa240" fill-opacity="0.55"/>
<circle cx="155.8" cy="684.8" r="3.2" fill="#6aa240" fill-opacity="0.55"/>
<circle cx="155.8" cy="686.96" r="3.2" fill="#6aa240" fill-opacity="0.55"/>
<circle cx="155.8" cy="689.11" r="3.2" fill="#6aa240" fill-opacity="0.55"/>
<circle cx="155.8" cy="691.26" r="3.2" fill="#6aa240" fill-opacity="0.55"/>
<circle cx="155.8" cy="693.41" r="3.2" fill="#6aa240" fill-opacity="0.55"/>
<circle cx="155.8" cy="694.49" r="3.2" fill="#6aa240" fill-opacity="0.55"/>
<circle cx="155.8" cy="696.64" r="3.2" fill="#6aa240" fill-opacity="0.55"/>
<circle cx="155.8" cy="697.72" r="3.2" fill="#6aa240" fill-opacity="0.55"/>
<circle cx="155.8" cy="698.79" r="3.2" fill="#6aa240" fill-opacity="0.55"/>
<circle cx="155.8" cy="699.87" r="3.2" fill="#6aa240" fill-opacity="0.55"/>
<circle cx="155.8" cy="700.94" r="3.2" fill="#6aa240" fill-opacity="0.55"/>
<circle cx="155.8" cy="702.02" r="3.2" fill="#6aa240" fill-opacity="0.55"/>
<circle cx="155.8" cy="703.1" r="3.2" fill="#6aa240" fill-opacity="0.55"/>
<circle cx="155.8" cy="704.17" r="3.2" fill="#6aa240" fill-opacity="0.55"/>
<circle cx="155.8" cy="704.82" r="3.2" fill="#6aa240" fill-opacity="0.55"/>
<circle cx="172.1" cy="626.7" r="3.2" fill="#6aa240" fill-opacity="0.55"/>
<circle cx="172.1" cy="626.7" r="3.2" fill="#6aa240" fill-opacity="0.55"/>
<circle cx="172.1" cy="640.15" r="3.2" fill="#6aa240" fill-opacity="0.55"/>
<circle cx="172.1" cy="640.69" r="3.2" fill="#6aa240" fill-opacity="0.55"/>
<circle cx="172.1" cy="641.76" r="3.2" fill="#6aa240" fill-opacity="0.55"/>
<circle cx="172.1" cy="642.84" r="3.2" fill="#6aa240" fill-opacity="0.55"/>
<circle cx="172.1" cy="644.99" r="3.2" fill="#6aa240" fill-opacity="0.55"/>
<circle cx="172.1" cy="647.14" r="3.2" fill="#6aa240" fill-opacity="0.55"/>
<circle cx="172.1" cy="649.3" r="3.2" fill="#6aa240" fill-opacity="0.55"/>
<circle cx="172.1" cy="651.45" r="3.2" fill="#6aa240" fill-opacity="0.55"/>
<circle cx="172.1" cy="653.6" r="3.2" fill="#6aa240" fill-opacity="0.55"/>
<circle cx="172.1" cy="655.75" r="3.2" fill="#6aa240" fill-opacity="0.55"/>
<circle cx="172.1" cy="657.9" r="3.2" fill="#6aa240" fill-opacity="0.55"/>
<circle cx="172.1" cy="660.06" r="3.2" fill="#6aa240" fill-opacity="0.55"/>
<circle cx="172.1" cy="662.21" r="3.2" fill="#6aa240" fill-opacity="0.55"/>
<circle cx="172.1" cy="664.36" r="3.2" fill="#6aa240" fill-opacity="0.55"/>
<circle cx="172.1" cy="666.51" r="3.2" fill="#6aa240" fill-opacity="0.55"/>
<circle cx="172.1" cy="668.66" r="3.2" fill="#6aa240" fill-opacity="0.55"/>
<circle cx="172.1" cy="670.82" r="3.2" fill="#6aa240" fill-opacity="0.55"/>
<circle cx="172.1" cy="672.97" r="3.2" fill="#6aa240" fill-opacity="0.55"/>
<circle cx="172.1" cy="675.12" r="3.2" fill="#6aa240" fill-opacity="0.55"/>
<circle cx="172.1" cy="677.27" r="3.2" fill="#6aa240" fill-opacity="0.55"/>
<circle cx="172.1" cy="679.42" r="3.2" fill="#6aa240" fill-opacity="0.55"/>
<circle cx="172.1" cy="681.58" r="3.2" fill="#6aa240" fill-opacity="0.55"/>
<circle cx="172.1" cy="683.73" r="3.2" fill="#6aa240" fill-opacity="0.55"/>
<circle cx="172.1" cy="685.88" r="3.2" fill="#6aa240" fill-opacity="0.55"/>
<circle cx="172.1" cy="686.96" r="3.2" fill="#6aa240" fill-opacity="0.55"/>
<circle cx="172.1" cy="689.11" r="3.2" fill="#6aa240" fill-opacity="0.55"/>
<circle cx="172.1" cy="691.26" r="3.2" fill="#6aa240" fill-opacity="0.55"/>
<circle cx="172.1" cy="692.34" r="3.2" fill="#6aa240" fill-opacity="0.55"/>
<circle cx="172.1" cy="694.49" r="3.2" fill="#6aa240" fill-opacity="0.55"/>
<circle cx="172.1" cy="696.64" r="3.2" fill="#6aa240" fill-opacity="0.55"/>
<circle cx="172.1" cy="697.72" r="3.2" fill="#6aa240" fill-opacity="0.55"/>
<circle cx="172.1" cy="698.79" r="3.2" fill="#6aa240" fill-opacity="0.55"/>
<circle cx="172.1" cy="699.87" r="3.2" fill="#6aa240" fill-opacity="0.55"/>
<circle cx="172.1" cy="700.94" r="3.2" fill="#6aa240" fill-opacity="0.55"/>
<circle cx="172.1" cy="702.02" r="3.2" fill="#6aa240" fill-opacity="0.55"/>
<circle cx="172.1" cy="702.45" r="3.2" fill="#6aa240" fill-opacity="0.55"/>
<circle cx="188.4" cy="663.28" r="3.2" fill="#6aa240" fill-opacity="0.55"/>
<circle cx="188.4" cy="669.09" r="3.2" fill="#6aa240" fill-opacity="0.55"/>
<circle cx="188.4" cy="675.55" r="3.2" fill="#6aa240" fill-opacity="0.55"/>
<circle cx="188.4" cy="690.29" r="3.2" fill="#6aa240" fill-opacity="0.55"/>
<circle cx="188.4" cy="693.41" r="3.2" fill="#6aa240" fill-opacity="0.55"/>
<circle cx="188.4" cy="694.49" r="3.2" fill="#6aa240" fill-opacity="0.55"/>
<circle cx="188.4" cy="697.72" r="3.2" fill="#6aa240" fill-opacity="0.55"/>
<circle cx="188.4" cy="698.79" r="3.2" fill="#6aa240" fill-opacity="0.55"/>
<circle cx="188.4" cy="700.84" r="3.2" fill="#6aa240" fill-opacity="0.55"/>
<line x1="60.4" y1="627.4" x2="188.4" y2="688.2" stroke="#66a23d" stroke-width="2.7" stroke-linecap="round"/>
<rect x="41.5" y="588.3" width="162.8" height="129.9" fill="none" stroke="#231f20" stroke-width="1.0" />
<line x1="58" y1="718.2" x2="58" y2="720" stroke="#231f20" stroke-width="0.8" />
<line x1="90.6" y1="718.2" x2="90.6" y2="720" stroke="#231f20" stroke-width="0.8" />
<line x1="123.2" y1="718.2" x2="123.2" y2="720" stroke="#231f20" stroke-width="0.8" />
<line x1="155.8" y1="718.2" x2="155.8" y2="720" stroke="#231f20" stroke-width="0.8" />
<line x1="188.4" y1="718.2" x2="188.4" y2="720" stroke="#231f20" stroke-width="0.8" />
<line x1="41.7" y1="718.2" x2="41.7" y2="721.5" stroke="#231f20" stroke-width="0.9" />
<text transform="translate(41.7,731.8) scale(0.98,1)" font-size="10.6" text-anchor="middle" fill="#231f20" >0</text>
<line x1="74.3" y1="718.2" x2="74.3" y2="721.5" stroke="#231f20" stroke-width="0.9" />
<text transform="translate(74.3,731.8) scale(0.98,1)" font-size="10.6" text-anchor="middle" fill="#231f20" >2</text>
<line x1="106.9" y1="718.2" x2="106.9" y2="721.5" stroke="#231f20" stroke-width="0.9" />
<text transform="translate(106.9,731.8) scale(0.98,1)" font-size="10.6" text-anchor="middle" fill="#231f20" >4</text>
<line x1="139.5" y1="718.2" x2="139.5" y2="721.5" stroke="#231f20" stroke-width="0.9" />
<text transform="translate(139.5,731.8) scale(0.98,1)" font-size="10.6" text-anchor="middle" fill="#231f20" >6</text>
<line x1="172.1" y1="718.2" x2="172.1" y2="721.5" stroke="#231f20" stroke-width="0.9" />
<text transform="translate(172.1,731.8) scale(0.98,1)" font-size="10.6" text-anchor="middle" fill="#231f20" >8</text>
<line x1="204.7" y1="718.2" x2="204.7" y2="721.5" stroke="#231f20" stroke-width="0.9" />
<text transform="translate(204.7,731.8) scale(0.98,1)" font-size="10.6" text-anchor="middle" fill="#231f20" >10</text>
<line x1="39.7" y1="589.04" x2="41.5" y2="589.04" stroke="#231f20" stroke-width="0.8" />
<line x1="39.7" y1="610.56" x2="41.5" y2="610.56" stroke="#231f20" stroke-width="0.8" />
<line x1="39.7" y1="632.08" x2="41.5" y2="632.08" stroke="#231f20" stroke-width="0.8" />
<line x1="39.7" y1="653.6" x2="41.5" y2="653.6" stroke="#231f20" stroke-width="0.8" />
<line x1="39.7" y1="675.12" x2="41.5" y2="675.12" stroke="#231f20" stroke-width="0.8" />
<line x1="39.7" y1="696.64" x2="41.5" y2="696.64" stroke="#231f20" stroke-width="0.8" />
<line x1="39.7" y1="718.16" x2="41.5" y2="718.16" stroke="#231f20" stroke-width="0.8" />
<line x1="38.2" y1="599.8" x2="41.5" y2="599.8" stroke="#231f20" stroke-width="0.9" />
<text transform="translate(38.3,603.2) scale(0.98,1)" font-size="10.6" text-anchor="end" fill="#231f20" >1.0</text>
<line x1="38.2" y1="621.32" x2="41.5" y2="621.32" stroke="#231f20" stroke-width="0.9" />
<text transform="translate(38.3,624.72) scale(0.98,1)" font-size="10.6" text-anchor="end" fill="#231f20" >0.8</text>
<line x1="38.2" y1="642.84" x2="41.5" y2="642.84" stroke="#231f20" stroke-width="0.9" />
<text transform="translate(38.3,646.24) scale(0.98,1)" font-size="10.6" text-anchor="end" fill="#231f20" >0.6</text>
<line x1="38.2" y1="664.36" x2="41.5" y2="664.36" stroke="#231f20" stroke-width="0.9" />
<text transform="translate(38.3,667.76) scale(0.98,1)" font-size="10.6" text-anchor="end" fill="#231f20" >0.4</text>
<line x1="38.2" y1="685.88" x2="41.5" y2="685.88" stroke="#231f20" stroke-width="0.9" />
<text transform="translate(38.3,689.28) scale(0.98,1)" font-size="10.6" text-anchor="end" fill="#231f20" >0.2</text>
<line x1="38.2" y1="707.4" x2="41.5" y2="707.4" stroke="#231f20" stroke-width="0.9" />
<text transform="translate(38.3,710.8) scale(0.98,1)" font-size="10.6" text-anchor="end" fill="#231f20" >0</text>
<text x="111.8" y="604" font-size="10.0" text-anchor="start" fill="#231f20" >Green R<tspan font-size="6.6" dy="-3.4">2</tspan><tspan dy="3.4">&#160; = 0.59***</tspan></text>
<text x="125.2" y="746.2" font-size="11.4" text-anchor="middle" fill="#231f20" >PCS severity</text>
<text transform="translate(15.6,657.5) rotate(-90)" font-size="11.2" text-anchor="middle" fill="#231f20" >Modified Stochasticity Ratio, MST</text>
<path d="M268.9,581 C303.35,581 303.35,577.7 337.8,577.7 L337.8,583.8 C303.35,583.8 303.35,587 268.9,587 Z" fill="#f3bd52" fill-opacity="0.665" stroke="#fff" stroke-width="0" stroke-opacity="0.8"/>
<path d="M268.9,694.8 C303.35,694.8 303.35,694.8 337.8,694.8 L337.8,755.8 C303.35,755.8 303.35,755.8 268.9,755.8 Z" fill="#e45828" fill-opacity="0.665" stroke="#fff" stroke-width="0" stroke-opacity="0.8"/>
<path d="M268.9,565 C303.35,565 303.35,565 337.8,565 L337.8,569 C303.35,569 303.35,569 268.9,569 Z" fill="#6fbd84" fill-opacity="0.665" stroke="#fff" stroke-width="0" stroke-opacity="0.8"/>
<path d="M268.9,599.9 C303.35,599.9 303.35,593.6 337.8,593.6 L337.8,619.1 C303.35,619.1 303.35,625.5 268.9,625.5 Z" fill="#556c99" fill-opacity="0.665" stroke="#fff" stroke-width="0" stroke-opacity="0.8"/>
<path d="M268.9,625.5 C303.35,625.5 303.35,628.8 337.8,628.8 L337.8,685.7 C303.35,685.7 303.35,682.2 268.9,682.2 Z" fill="#556c99" fill-opacity="0.665" stroke="#fff" stroke-width="0" stroke-opacity="0.8"/>
<path d="M339.8,577.7 C374.05,577.7 374.05,571.8 408.3,571.8 L408.3,575.7 C374.05,575.7 374.05,581.8 339.8,581.8 Z" fill="#f3bd52" fill-opacity="0.665" stroke="#fff" stroke-width="0.35" stroke-opacity="0.8"/>
<path d="M339.8,581.8 C374.05,581.8 374.05,593.9 408.3,593.9 L408.3,595.9 C374.05,595.9 374.05,583.8 339.8,583.8 Z" fill="#f3bd52" fill-opacity="0.72" stroke="#fff" stroke-width="0" stroke-opacity="0.8"/>
<path d="M339.8,694.8 C374.05,694.8 374.05,620.4 408.3,620.4 L408.3,621.6 C374.05,621.6 374.05,696 339.8,696 Z" fill="#e45828" fill-opacity="0.72" stroke="#fff" stroke-width="0" stroke-opacity="0.8"/>
<path d="M339.8,696 C374.05,696 374.05,645.1 408.3,645.1 L408.3,658.4 C374.05,658.4 374.05,709.3 339.8,709.3 Z" fill="#e45828" fill-opacity="0.665" stroke="#fff" stroke-width="0.35" stroke-opacity="0.8"/>
<path d="M339.8,709.3 C374.05,709.3 374.05,661.1 408.3,661.1 L408.3,671.8 C374.05,671.8 374.05,720 339.8,720 Z" fill="#e45828" fill-opacity="0.665" stroke="#fff" stroke-width="0.35" stroke-opacity="0.8"/>
<path d="M339.8,720.9 C374.05,720.9 374.05,720.9 408.3,720.9 L408.3,755.8 C374.05,755.8 374.05,755.8 339.8,755.8 Z" fill="#e45828" fill-opacity="0.665" stroke="#fff" stroke-width="0" stroke-opacity="0.8"/>
<path d="M339.8,565.2 C374.05,565.2 374.05,587.4 408.3,587.4 L408.3,591.1 C374.05,591.1 374.05,568.9 339.8,568.9 Z" fill="#6fbd84" fill-opacity="0.665" stroke="#fff" stroke-width="0.35" stroke-opacity="0.8"/>
<path d="M339.8,593.6 C374.05,593.6 374.05,567 408.3,567 L408.3,568.6 C374.05,568.6 374.05,595.2 339.8,595.2 Z" fill="#556c99" fill-opacity="0.72" stroke="#fff" stroke-width="0" stroke-opacity="0.8"/>
<path d="M339.8,595.2 C374.05,595.2 374.05,578.4 408.3,578.4 L408.3,580 C374.05,580 374.05,596.9 339.8,596.9 Z" fill="#556c99" fill-opacity="0.72" stroke="#fff" stroke-width="0" stroke-opacity="0.8"/>
<path d="M339.8,596.9 C374.05,596.9 374.05,583 408.3,583 L408.3,584.6 C374.05,584.6 374.05,598.6 339.8,598.6 Z" fill="#556c99" fill-opacity="0.72" stroke="#fff" stroke-width="0" stroke-opacity="0.8"/>
<path d="M339.8,599.4 C374.05,599.4 374.05,623.3 408.3,623.3 L408.3,641.7 C374.05,641.7 374.05,617.8 339.8,617.8 Z" fill="#556c99" fill-opacity="0.665" stroke="#fff" stroke-width="0.35" stroke-opacity="0.8"/>
<path d="M339.8,617.8 C374.05,617.8 374.05,673.6 408.3,673.6 L408.3,674.9 C374.05,674.9 374.05,619.1 339.8,619.1 Z" fill="#556c99" fill-opacity="0.72" stroke="#fff" stroke-width="0" stroke-opacity="0.8"/>
<path d="M339.8,628.8 C374.05,628.8 374.05,599.2 408.3,599.2 L408.3,617.4 C374.05,617.4 374.05,647 339.8,647 Z" fill="#556c99" fill-opacity="0.665" stroke="#fff" stroke-width="0.35" stroke-opacity="0.8"/>
<path d="M339.8,647 C374.05,647 374.05,677.3 408.3,677.3 L408.3,681.2 C374.05,681.2 374.05,650.9 339.8,650.9 Z" fill="#556c99" fill-opacity="0.665" stroke="#fff" stroke-width="0.35" stroke-opacity="0.8"/>
<path d="M339.8,650.9 C374.05,650.9 374.05,684 408.3,684 L408.3,718.6 C374.05,718.6 374.05,685.7 339.8,685.7 Z" fill="#556c99" fill-opacity="0.665" stroke="#fff" stroke-width="0.35" stroke-opacity="0.8"/>
<rect x="266.9" y="565" width="2" height="190.8" fill="#4d4949" stroke="none" stroke-width="0" />
<rect x="337.8" y="565" width="2" height="190.8" fill="#4d4949" stroke="none" stroke-width="0" />
<rect x="408.3" y="565" width="2" height="190.8" fill="#4d4949" stroke="none" stroke-width="0" />
<text x="265.4" y="569.8" font-size="7.8" text-anchor="end" fill="#231f20" >Firmicutes</text>
<text x="265.4" y="586.9" font-size="7.8" text-anchor="end" fill="#231f20" >Actinobacteriota</text>
<text x="265.4" y="643.6" font-size="7.8" text-anchor="end" fill="#231f20" >Proteobacteria</text>
<text x="265.4" y="727.8" font-size="7.8" text-anchor="end" fill="#231f20" >Bacteroidota</text>
<text x="336.6" y="569.3" font-size="6.9" text-anchor="end" fill="#231f20" >Bacilli</text>
<text x="336.6" y="583.4" font-size="6.9" text-anchor="end" fill="#231f20" >Actinobacteria</text>
<text x="338" y="608.8" font-size="6.9" text-anchor="end" fill="#231f20" >Gammaproteobacteria</text>
<text x="336.6" y="659.4" font-size="6.9" text-anchor="end" fill="#231f20" >Alphaproteobacteria</text>
<text x="336.6" y="728.2" font-size="6.9" text-anchor="end" fill="#231f20" >Bacteroidia</text>
<text x="410.6" y="568.2" font-size="7.1" text-anchor="start" font-style="italic" fill="#231f20" >Enterobacterales</text>
<text x="410.6" y="574.3" font-size="7.1" text-anchor="start" font-style="italic" fill="#231f20" >Streptomycetales</text>
<text x="410.6" y="580.4" font-size="7.1" text-anchor="start" font-style="italic" fill="#231f20" >Xanthomonadales</text>
<text x="410.6" y="586.2" font-size="7.1" text-anchor="start" font-style="italic" fill="#231f20" >Pseudomonadales</text>
<text x="410.6" y="592.6" font-size="7.1" text-anchor="start" font-style="italic" fill="#231f20" >Paenibacillales</text>
<text x="410.6" y="598.4" font-size="7.1" text-anchor="start" font-style="italic" fill="#231f20" >Micrococcales</text>
<text x="410.6" y="609.8" font-size="7.1" text-anchor="start" font-style="italic" fill="#231f20" >Sphingomonadales</text>
<text x="410.6" y="622.9" font-size="7.1" text-anchor="start" font-style="italic" fill="#231f20" >Cytophagales</text>
<text x="410.6" y="634.9" font-size="7.1" text-anchor="start" font-style="italic" fill="#231f20" >Burkholderiales</text>
<text x="410.6" y="653" font-size="7.1" text-anchor="start" font-style="italic" fill="#231f20" >Flavobacteriales</text>
<text x="410.6" y="667.2" font-size="7.1" text-anchor="start" font-style="italic" fill="#231f20" >Chitinophagales</text>
<text x="410.6" y="675.9" font-size="7.1" text-anchor="start" font-style="italic" fill="#231f20" >Cellvibrionales</text>
<text x="410.6" y="681.2" font-size="7.1" text-anchor="start" font-style="italic" fill="#231f20" >Caulobacterales</text>
<text x="410.6" y="702.7" font-size="7.1" text-anchor="start" font-style="italic" fill="#231f20" >Rhizobiales</text>
<text x="410.6" y="740.1" font-size="7.1" text-anchor="start" font-style="italic" fill="#231f20" >Sphingobacteriales</text>
<text x="270.8" y="767.7" font-size="10" text-anchor="middle" fill="#231f20" >Phylum</text>
<text x="339.2" y="767.7" font-size="10" text-anchor="middle" fill="#231f20" >Class</text>
<text x="409.8" y="767.7" font-size="10" text-anchor="middle" fill="#231f20" >Order</text>
<line x1="542.4" y1="570.17" x2="604.6" y2="570.17" stroke="#e6e6e6" stroke-width="0.5" stroke-dasharray="1.6,1.2"/>
<line x1="612.4" y1="570.17" x2="674.4" y2="570.17" stroke="#e6e6e6" stroke-width="0.5" stroke-dasharray="1.6,1.2"/>
<line x1="542.4" y1="582.95" x2="604.6" y2="582.95" stroke="#e6e6e6" stroke-width="0.5" stroke-dasharray="1.6,1.2"/>
<line x1="612.4" y1="582.95" x2="674.4" y2="582.95" stroke="#e6e6e6" stroke-width="0.5" stroke-dasharray="1.6,1.2"/>
<line x1="542.4" y1="595.72" x2="604.6" y2="595.72" stroke="#e6e6e6" stroke-width="0.5" stroke-dasharray="1.6,1.2"/>
<line x1="612.4" y1="595.72" x2="674.4" y2="595.72" stroke="#e6e6e6" stroke-width="0.5" stroke-dasharray="1.6,1.2"/>
<line x1="542.4" y1="608.49" x2="604.6" y2="608.49" stroke="#e6e6e6" stroke-width="0.5" stroke-dasharray="1.6,1.2"/>
<line x1="612.4" y1="608.49" x2="674.4" y2="608.49" stroke="#e6e6e6" stroke-width="0.5" stroke-dasharray="1.6,1.2"/>
<line x1="542.4" y1="621.27" x2="604.6" y2="621.27" stroke="#e6e6e6" stroke-width="0.5" stroke-dasharray="1.6,1.2"/>
<line x1="612.4" y1="621.27" x2="674.4" y2="621.27" stroke="#e6e6e6" stroke-width="0.5" stroke-dasharray="1.6,1.2"/>
<line x1="542.4" y1="634.04" x2="604.6" y2="634.04" stroke="#e6e6e6" stroke-width="0.5" stroke-dasharray="1.6,1.2"/>
<line x1="612.4" y1="634.04" x2="674.4" y2="634.04" stroke="#e6e6e6" stroke-width="0.5" stroke-dasharray="1.6,1.2"/>
<line x1="542.4" y1="646.81" x2="604.6" y2="646.81" stroke="#e6e6e6" stroke-width="0.5" stroke-dasharray="1.6,1.2"/>
<line x1="612.4" y1="646.81" x2="674.4" y2="646.81" stroke="#e6e6e6" stroke-width="0.5" stroke-dasharray="1.6,1.2"/>
<line x1="542.4" y1="659.59" x2="604.6" y2="659.59" stroke="#e6e6e6" stroke-width="0.5" stroke-dasharray="1.6,1.2"/>
<line x1="612.4" y1="659.59" x2="674.4" y2="659.59" stroke="#e6e6e6" stroke-width="0.5" stroke-dasharray="1.6,1.2"/>
<line x1="542.4" y1="672.36" x2="604.6" y2="672.36" stroke="#e6e6e6" stroke-width="0.5" stroke-dasharray="1.6,1.2"/>
<line x1="612.4" y1="672.36" x2="674.4" y2="672.36" stroke="#e6e6e6" stroke-width="0.5" stroke-dasharray="1.6,1.2"/>
<line x1="542.4" y1="685.13" x2="604.6" y2="685.13" stroke="#e6e6e6" stroke-width="0.5" stroke-dasharray="1.6,1.2"/>
<line x1="612.4" y1="685.13" x2="674.4" y2="685.13" stroke="#e6e6e6" stroke-width="0.5" stroke-dasharray="1.6,1.2"/>
<line x1="542.4" y1="697.91" x2="604.6" y2="697.91" stroke="#e6e6e6" stroke-width="0.5" stroke-dasharray="1.6,1.2"/>
<line x1="612.4" y1="697.91" x2="674.4" y2="697.91" stroke="#e6e6e6" stroke-width="0.5" stroke-dasharray="1.6,1.2"/>
<line x1="542.4" y1="710.68" x2="604.6" y2="710.68" stroke="#e6e6e6" stroke-width="0.5" stroke-dasharray="1.6,1.2"/>
<line x1="612.4" y1="710.68" x2="674.4" y2="710.68" stroke="#e6e6e6" stroke-width="0.5" stroke-dasharray="1.6,1.2"/>
<line x1="542.4" y1="723.45" x2="604.6" y2="723.45" stroke="#e6e6e6" stroke-width="0.5" stroke-dasharray="1.6,1.2"/>
<line x1="612.4" y1="723.45" x2="674.4" y2="723.45" stroke="#e6e6e6" stroke-width="0.5" stroke-dasharray="1.6,1.2"/>
<line x1="542.4" y1="736.23" x2="604.6" y2="736.23" stroke="#e6e6e6" stroke-width="0.5" stroke-dasharray="1.6,1.2"/>
<line x1="612.4" y1="736.23" x2="674.4" y2="736.23" stroke="#e6e6e6" stroke-width="0.5" stroke-dasharray="1.6,1.2"/>
<rect x="541.4" y="559.1" width="8.47" height="9.47" fill="#f3d640" stroke="#231f20" stroke-width="0.9" />
<rect x="611.4" y="559.1" width="1.3" height="9.47" fill="#3a3515" stroke="#231f20" stroke-width="0.9" />
<line x1="539.8" y1="563.79" x2="541.4" y2="563.79" stroke="#231f20" stroke-width="0.9" />
<line x1="609.8" y1="563.79" x2="611.4" y2="563.79" stroke="#231f20" stroke-width="0.9" />
<text x="538.2" y="565.89" font-size="7.9" text-anchor="end" font-style="italic" fill="#231f20" >Chryseobacterium</text>
<rect x="541.4" y="571.87" width="8.47" height="9.47" fill="#f3d640" stroke="#231f20" stroke-width="0.9" />
<rect x="611.4" y="571.87" width="0.14" height="9.47" fill="#f3d640" stroke="#231f20" stroke-width="0.5" />
<line x1="539.8" y1="576.56" x2="541.4" y2="576.56" stroke="#231f20" stroke-width="0.9" />
<line x1="609.8" y1="576.56" x2="611.4" y2="576.56" stroke="#231f20" stroke-width="0.9" />
<text x="538.2" y="578.66" font-size="7.9" text-anchor="end" font-style="italic" fill="#231f20" >Bosea</text>
<rect x="541.4" y="584.65" width="12.71" height="9.47" fill="#f3d640" stroke="#231f20" stroke-width="0.9" />
<rect x="611.4" y="584.65" width="2.88" height="9.47" fill="#f3d640" stroke="#231f20" stroke-width="0.9" />
<line x1="539.8" y1="589.33" x2="541.4" y2="589.33" stroke="#231f20" stroke-width="0.9" />
<line x1="609.8" y1="589.33" x2="611.4" y2="589.33" stroke="#231f20" stroke-width="0.9" />
<text x="538.2" y="591.43" font-size="7.9" text-anchor="end" font-style="italic" fill="#231f20" >Sphingopyxis</text>
<rect x="541.4" y="597.42" width="12.71" height="9.47" fill="#f3d640" stroke="#231f20" stroke-width="0.9" />
<rect x="611.4" y="597.42" width="3.46" height="9.47" fill="#f3d640" stroke="#231f20" stroke-width="0.9" />
<line x1="539.8" y1="602.11" x2="541.4" y2="602.11" stroke="#231f20" stroke-width="0.9" />
<line x1="609.8" y1="602.11" x2="611.4" y2="602.11" stroke="#231f20" stroke-width="0.9" />
<text x="538.2" y="604.21" font-size="7.9" text-anchor="end" font-style="italic" fill="#231f20" >Caulobacter</text>
<rect x="541.4" y="610.19" width="16.94" height="9.47" fill="#a9cf4b" stroke="#231f20" stroke-width="0.9" />
<rect x="611.4" y="610.19" width="28.22" height="9.47" fill="#2e9a86" stroke="#231f20" stroke-width="0.9" />
<line x1="539.8" y1="614.88" x2="541.4" y2="614.88" stroke="#231f20" stroke-width="0.9" />
<line x1="609.8" y1="614.88" x2="611.4" y2="614.88" stroke="#231f20" stroke-width="0.9" />
<text x="538.2" y="616.98" font-size="7.9" text-anchor="end" font-style="italic" fill="#231f20" >Streptomyces</text>
<rect x="541.4" y="622.97" width="16.94" height="9.47" fill="#a9cf4b" stroke="#231f20" stroke-width="0.9" />
<rect x="611.4" y="622.97" width="1.73" height="9.47" fill="#c9b83a" stroke="#231f20" stroke-width="0.9" />
<line x1="539.8" y1="627.65" x2="541.4" y2="627.65" stroke="#231f20" stroke-width="0.9" />
<line x1="609.8" y1="627.65" x2="611.4" y2="627.65" stroke="#231f20" stroke-width="0.9" />
<text x="538.2" y="629.75" font-size="7.9" text-anchor="end" font-style="italic" fill="#231f20" >Paenibacillus</text>
<rect x="541.4" y="635.74" width="21.18" height="9.47" fill="#64bd62" stroke="#231f20" stroke-width="0.9" />
<rect x="611.4" y="635.74" width="5.04" height="9.47" fill="#f3d640" stroke="#231f20" stroke-width="0.9" />
<line x1="539.8" y1="640.43" x2="541.4" y2="640.43" stroke="#231f20" stroke-width="0.9" />
<line x1="609.8" y1="640.43" x2="611.4" y2="640.43" stroke="#231f20" stroke-width="0.9" />
<text x="538.2" y="642.53" font-size="7.9" text-anchor="end" font-style="italic" fill="#231f20" >Mucilaginibacter</text>
<rect x="541.4" y="648.51" width="21.18" height="9.47" fill="#64bd62" stroke="#231f20" stroke-width="0.9" />
<rect x="611.4" y="648.51" width="9.94" height="9.47" fill="#a9cf4b" stroke="#231f20" stroke-width="0.9" />
<line x1="539.8" y1="653.2" x2="541.4" y2="653.2" stroke="#231f20" stroke-width="0.9" />
<line x1="609.8" y1="653.2" x2="611.4" y2="653.2" stroke="#231f20" stroke-width="0.9" />
<text x="538.2" y="655.3" font-size="7.9" text-anchor="end" font-style="italic" fill="#231f20" >Chitinophaga</text>
<rect x="541.4" y="661.29" width="25.42" height="9.47" fill="#6cc164" stroke="#231f20" stroke-width="0.9" />
<rect x="611.4" y="661.29" width="8.06" height="9.47" fill="#a9cf4b" stroke="#231f20" stroke-width="0.9" />
<line x1="539.8" y1="665.97" x2="541.4" y2="665.97" stroke="#231f20" stroke-width="0.9" />
<line x1="609.8" y1="665.97" x2="611.4" y2="665.97" stroke="#231f20" stroke-width="0.9" />
<text x="538.2" y="668.07" font-size="7.9" text-anchor="end" font-style="italic" fill="#231f20" >Sphingobium</text>
<rect x="541.4" y="674.06" width="33.89" height="9.47" fill="#2f9a86" stroke="#231f20" stroke-width="0.9" />
<rect x="611.4" y="674.06" width="6.05" height="9.47" fill="#f3d640" stroke="#231f20" stroke-width="0.9" />
<line x1="539.8" y1="678.75" x2="541.4" y2="678.75" stroke="#231f20" stroke-width="0.9" />
<line x1="609.8" y1="678.75" x2="611.4" y2="678.75" stroke="#231f20" stroke-width="0.9" />
<text x="538.2" y="680.85" font-size="7.9" text-anchor="end" font-style="italic" fill="#231f20" >Sphingomonas</text>
<rect x="541.4" y="686.83" width="42.36" height="9.47" fill="#2e8187" stroke="#231f20" stroke-width="0.9" />
<rect x="611.4" y="686.83" width="41.76" height="9.47" fill="#33808b" stroke="#231f20" stroke-width="0.9" />
<line x1="539.8" y1="691.52" x2="541.4" y2="691.52" stroke="#231f20" stroke-width="0.9" />
<line x1="609.8" y1="691.52" x2="611.4" y2="691.52" stroke="#231f20" stroke-width="0.9" />
<text x="538.2" y="693.62" font-size="7.9" text-anchor="end" font-style="italic" fill="#231f20" >Rhizobium</text>
<rect x="541.4" y="699.61" width="46.6" height="9.47" fill="#35699a" stroke="#231f20" stroke-width="0.9" />
<rect x="611.4" y="699.61" width="21.02" height="9.47" fill="#66bd62" stroke="#231f20" stroke-width="0.9" />
<line x1="539.8" y1="704.29" x2="541.4" y2="704.29" stroke="#231f20" stroke-width="0.9" />
<line x1="609.8" y1="704.29" x2="611.4" y2="704.29" stroke="#231f20" stroke-width="0.9" />
<text x="538.2" y="706.39" font-size="7.9" text-anchor="end" font-style="italic" fill="#231f20" >Sphingobacterium</text>
<rect x="541.4" y="712.38" width="46.6" height="9.47" fill="#35699a" stroke="#231f20" stroke-width="0.9" />
<rect x="611.4" y="712.38" width="56.45" height="9.47" fill="#424c8a" stroke="#231f20" stroke-width="0.9" />
<line x1="539.8" y1="717.07" x2="541.4" y2="717.07" stroke="#231f20" stroke-width="0.9" />
<line x1="609.8" y1="717.07" x2="611.4" y2="717.07" stroke="#231f20" stroke-width="0.9" />
<text x="538.2" y="719.17" font-size="7.9" text-anchor="end" font-style="italic" fill="#231f20" >Flavobacterium</text>
<rect x="541.4" y="725.15" width="46.6" height="9.47" fill="#35699a" stroke="#231f20" stroke-width="0.9" />
<rect x="611.4" y="725.15" width="17.28" height="9.47" fill="#66bd62" stroke="#231f20" stroke-width="0.9" />
<line x1="539.8" y1="729.84" x2="541.4" y2="729.84" stroke="#231f20" stroke-width="0.9" />
<line x1="609.8" y1="729.84" x2="611.4" y2="729.84" stroke="#231f20" stroke-width="0.9" />
<text x="538.2" y="731.94" font-size="7.9" text-anchor="end" font-style="italic" fill="#231f20" >Devosia</text>
<rect x="541.4" y="737.93" width="59.3" height="9.47" fill="#3d4d8a" stroke="#231f20" stroke-width="0.9" />
<rect x="611.4" y="737.93" width="21.31" height="9.47" fill="#3fb27f" stroke="#231f20" stroke-width="0.9" />
<line x1="539.8" y1="742.61" x2="541.4" y2="742.61" stroke="#231f20" stroke-width="0.9" />
<line x1="609.8" y1="742.61" x2="611.4" y2="742.61" stroke="#231f20" stroke-width="0.9" />
<text x="538.2" y="744.71" font-size="7.9" text-anchor="end" font-style="italic" fill="#231f20" >Pedobacter</text>
<path d="M605.6,557.4 H541.4 V749 H605.6" fill="none" stroke="#231f20" stroke-width="1"/>
<line x1="605.6" y1="557.4" x2="605.6" y2="749" stroke="#a8a8a8" stroke-width="1.6" />
<rect x="611.4" y="557.4" width="64" height="191.6" fill="none" stroke="#231f20" stroke-width="1" />
<line x1="541.4" y1="749" x2="541.4" y2="752.2" stroke="#231f20" stroke-width="0.8" />
<line x1="545.64" y1="749" x2="545.64" y2="750.8" stroke="#231f20" stroke-width="0.8" />
<line x1="549.87" y1="749" x2="549.87" y2="750.8" stroke="#231f20" stroke-width="0.8" />
<line x1="554.11" y1="749" x2="554.11" y2="750.8" stroke="#231f20" stroke-width="0.8" />
<line x1="558.34" y1="749" x2="558.34" y2="752.2" stroke="#231f20" stroke-width="0.8" />
<line x1="562.58" y1="749" x2="562.58" y2="750.8" stroke="#231f20" stroke-width="0.8" />
<line x1="566.82" y1="749" x2="566.82" y2="750.8" stroke="#231f20" stroke-width="0.8" />
<line x1="571.05" y1="749" x2="571.05" y2="750.8" stroke="#231f20" stroke-width="0.8" />
<line x1="575.29" y1="749" x2="575.29" y2="752.2" stroke="#231f20" stroke-width="0.8" />
<line x1="579.52" y1="749" x2="579.52" y2="750.8" stroke="#231f20" stroke-width="0.8" />
<line x1="583.76" y1="749" x2="583.76" y2="750.8" stroke="#231f20" stroke-width="0.8" />
<line x1="588" y1="749" x2="588" y2="750.8" stroke="#231f20" stroke-width="0.8" />
<line x1="592.23" y1="749" x2="592.23" y2="752.2" stroke="#231f20" stroke-width="0.8" />
<line x1="596.47" y1="749" x2="596.47" y2="750.8" stroke="#231f20" stroke-width="0.8" />
<line x1="600.7" y1="749" x2="600.7" y2="750.8" stroke="#231f20" stroke-width="0.8" />
<line x1="604.94" y1="749" x2="604.94" y2="750.8" stroke="#231f20" stroke-width="0.8" />
<text transform="translate(541.6,760.6) scale(0.95,1)" font-size="9.0" text-anchor="middle" fill="#231f20" >0</text>
<text transform="translate(558.34,760.6) scale(0.95,1)" font-size="9.0" text-anchor="middle" fill="#231f20" >4</text>
<text transform="translate(575.49,760.6) scale(0.95,1)" font-size="9.0" text-anchor="middle" fill="#231f20" >8</text>
<text transform="translate(593.43,760.6) scale(0.95,1)" font-size="9.0" text-anchor="middle" fill="#231f20" >12</text>
<line x1="611.4" y1="749" x2="611.4" y2="752.2" stroke="#231f20" stroke-width="0.8" />
<line x1="618.6" y1="749" x2="618.6" y2="750.8" stroke="#231f20" stroke-width="0.8" />
<line x1="625.8" y1="749" x2="625.8" y2="752.2" stroke="#231f20" stroke-width="0.8" />
<line x1="633" y1="749" x2="633" y2="750.8" stroke="#231f20" stroke-width="0.8" />
<line x1="640.2" y1="749" x2="640.2" y2="752.2" stroke="#231f20" stroke-width="0.8" />
<line x1="647.4" y1="749" x2="647.4" y2="750.8" stroke="#231f20" stroke-width="0.8" />
<line x1="654.6" y1="749" x2="654.6" y2="752.2" stroke="#231f20" stroke-width="0.8" />
<line x1="661.8" y1="749" x2="661.8" y2="750.8" stroke="#231f20" stroke-width="0.8" />
<line x1="669" y1="749" x2="669" y2="752.2" stroke="#231f20" stroke-width="0.8" />
<text transform="translate(611.7,760.6) scale(0.86,1)" font-size="9.0" text-anchor="middle" fill="#231f20" >0</text>
<text transform="translate(625.5,760.6) scale(0.86,1)" font-size="9.0" text-anchor="middle" fill="#231f20" >5%</text>
<text transform="translate(641.1,760.6) scale(0.86,1)" font-size="9.0" text-anchor="middle" fill="#231f20" >10%</text>
<text transform="translate(655.4,760.6) scale(0.86,1)" font-size="9.0" text-anchor="middle" fill="#231f20" >15%</text>
<text transform="translate(670.9,760.6) scale(0.86,1)" font-size="9.0" text-anchor="middle" fill="#231f20" >20%</text>
<text x="571" y="771.2" font-size="9.3" text-anchor="middle" fill="#231f20" >ASV number</text>
<text x="643.6" y="771.2" font-size="9.3" text-anchor="middle" fill="#231f20" >Relative abundance</text>
</svg>
</body></html>
